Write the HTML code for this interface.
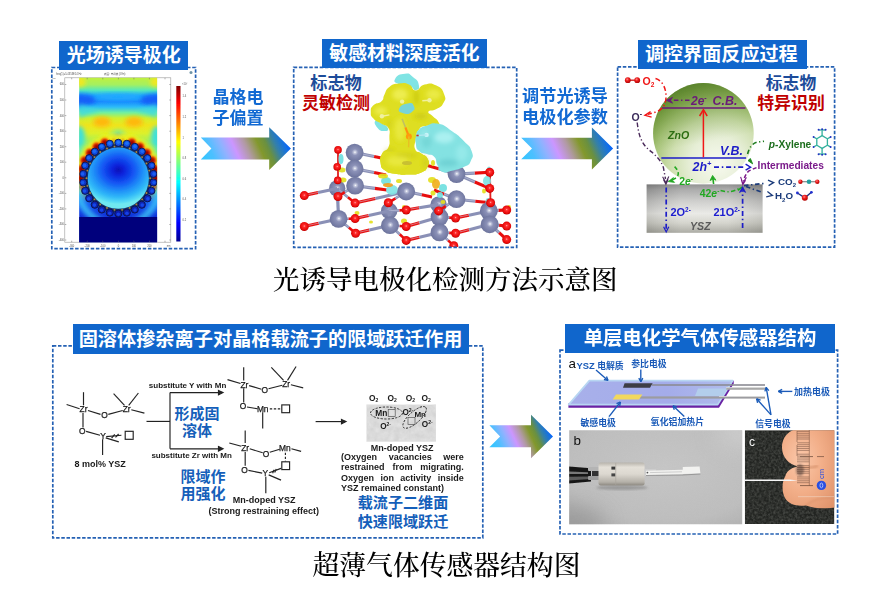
<!DOCTYPE html>
<html lang="zh">
<head>
<meta charset="utf-8">
<title>光诱导电极化检测方法示意图</title>
<style>
html,body{margin:0;padding:0;background:#fff;}
body{width:886px;height:613px;position:relative;overflow:hidden;font-family:"Liberation Sans","Noto Sans CJK SC",sans-serif;}
.abs{position:absolute;}
.dash{position:absolute;border:1.6px dashed #2a62b0;box-sizing:border-box;}
.lbl{position:absolute;overflow:hidden;background:#1066cc;color:#fff;font-weight:bold;text-align:center;white-space:nowrap;box-sizing:border-box;}
.cap{position:absolute;font-family:"Liberation Serif","Noto Serif CJK SC",serif;color:#000;white-space:nowrap;font-weight:500;}
.bt{position:absolute;color:#1169d3;font-weight:bold;white-space:nowrap;text-align:center;}
.rt{position:absolute;color:#c00000;font-weight:bold;white-space:nowrap;text-align:center;}
.nt{position:absolute;color:#1f3f8f;font-weight:bold;white-space:nowrap;text-align:center;}
svg{position:absolute;overflow:visible;}
</style>
</head>
<body>
<svg width="886" height="613" viewBox="0 0 886 613" style="left:0;top:0;">
<defs>
<clipPath id="hmclip"><rect x="79.2" y="77.8" width="77.9" height="164.4"/></clipPath>
<filter id="b06" x="-10%" y="-10%" width="120%" height="120%"><feGaussianBlur stdDeviation="0.55"/></filter>
<filter id="b2" x="-50%" y="-50%" width="200%" height="200%"><feGaussianBlur stdDeviation="2.2"/></filter>
<filter id="b4" x="-50%" y="-50%" width="200%" height="200%"><feGaussianBlur stdDeviation="4"/></filter>
<filter id="b1" x="-50%" y="-50%" width="200%" height="200%"><feGaussianBlur stdDeviation="1.1"/></filter>
<linearGradient id="hmbg" x1="0" y1="77.8" x2="0" y2="217" gradientUnits="userSpaceOnUse">
<stop offset="0" stop-color="#c0f040"/>
<stop offset="0.05" stop-color="#a4f060"/>
<stop offset="0.09" stop-color="#54e8bc"/>
<stop offset="0.13" stop-color="#1ea8ff"/>
<stop offset="0.17" stop-color="#1888ff"/>
<stop offset="0.21" stop-color="#2cbcf8"/>
<stop offset="0.25" stop-color="#70f0a0"/>
<stop offset="0.29" stop-color="#d0f030"/>
<stop offset="0.34" stop-color="#f0e41c"/>
<stop offset="0.40" stop-color="#dcf02c"/>
<stop offset="0.45" stop-color="#a4f05c"/>
<stop offset="0.52" stop-color="#60f0b0"/>
<stop offset="0.64" stop-color="#38d8f0"/>
<stop offset="0.78" stop-color="#28a8ff"/>
<stop offset="0.92" stop-color="#1450f0"/>
<stop offset="1" stop-color="#1030d8"/>
</linearGradient>
<radialGradient id="bigc" cx="118.3" cy="170" r="34" gradientUnits="userSpaceOnUse" gradientTransform="translate(118.3 170) scale(1.18 1) translate(-118.3 -170)">
<stop offset="0" stop-color="#0610b8"/>
<stop offset="0.15" stop-color="#0a24dc"/>
<stop offset="0.4" stop-color="#1458f4"/>
<stop offset="0.62" stop-color="#2090f8"/>
<stop offset="0.8" stop-color="#30b8f8"/>
<stop offset="0.95" stop-color="#58dcf4"/>
<stop offset="1" stop-color="#70e8f0"/>
</radialGradient>
<linearGradient id="cbar" x1="0" y1="86" x2="0" y2="241.5" gradientUnits="userSpaceOnUse">
<stop offset="0" stop-color="#800000"/>
<stop offset="0.11" stop-color="#ff0000"/>
<stop offset="0.36" stop-color="#ffff00"/>
<stop offset="0.62" stop-color="#00ffff"/>
<stop offset="0.88" stop-color="#0000ff"/>
<stop offset="1" stop-color="#00008f"/>
</linearGradient>
</defs>
<g filter="url(#b06)">
<rect x="64.8" y="77.8" width="106" height="164.4" fill="#fff" stroke="#9a9a9a" stroke-width="0.6"/>
<g clip-path="url(#hmclip)">
<rect x="79" y="77" width="79" height="166" fill="url(#hmbg)"/>
<ellipse cx="79" cy="100" rx="17" ry="6" fill="#1460f8" filter="url(#b2)"/>
<ellipse cx="157" cy="100" rx="17" ry="6" fill="#1460f8" filter="url(#b2)"/>
<ellipse cx="118" cy="97" rx="24" ry="3" fill="#24a8ff" filter="url(#b2)"/>
<ellipse cx="80" cy="82" rx="6" ry="5" fill="#f0e820" filter="url(#b2)"/>
<ellipse cx="156" cy="82" rx="6" ry="5" fill="#f0e820" filter="url(#b2)"/>
<ellipse cx="102" cy="122" rx="9" ry="5" fill="#ffb810" filter="url(#b2)"/>
<ellipse cx="134" cy="122" rx="9" ry="5" fill="#ffb810" filter="url(#b2)"/>
<ellipse cx="79" cy="137" rx="6" ry="11" fill="#40e0d8" filter="url(#b2)"/>
<ellipse cx="157" cy="137" rx="6" ry="11" fill="#40e0d8" filter="url(#b2)"/>
<ellipse cx="118" cy="136.5" rx="8" ry="6" fill="#50e8c8" filter="url(#b2)"/>
<ellipse cx="118" cy="137.5" rx="4.6" ry="4" fill="#1c9cff" filter="url(#b1)"/>
<path d="M79 104 L100 110 L79 118 Z" fill="#40d8e0" filter="url(#b2)" opacity="0.8"/>
<path d="M157 104 L136 110 L157 118 Z" fill="#40d8e0" filter="url(#b2)" opacity="0.8"/>
<circle cx="123.0" cy="139.9" r="7.5" fill="#f4f018" opacity="0.90" filter="url(#b2)"/>
<circle cx="132.0" cy="142.1" r="7.5" fill="#f4f018" opacity="0.90" filter="url(#b2)"/>
<circle cx="140.2" cy="146.4" r="7.5" fill="#f4f018" opacity="0.90" filter="url(#b2)"/>
<circle cx="147.2" cy="152.6" r="7.5" fill="#f4f018" opacity="0.90" filter="url(#b2)"/>
<circle cx="152.5" cy="160.3" r="7.5" fill="#f4f018" opacity="0.90" filter="url(#b2)"/>
<circle cx="155.8" cy="169.0" r="7.5" fill="#f4f018" opacity="0.90" filter="url(#b2)"/>
<circle cx="156.9" cy="178.2" r="7.5" fill="#f4f018" opacity="0.90" filter="url(#b2)"/>
<circle cx="155.8" cy="187.4" r="6.2" fill="#f4f018" opacity="0.72" filter="url(#b2)"/>
<circle cx="152.5" cy="196.1" r="3.3" fill="#f4f018" opacity="0.32" filter="url(#b2)"/>
<circle cx="84.1" cy="196.1" r="3.3" fill="#f4f018" opacity="0.32" filter="url(#b2)"/>
<circle cx="80.8" cy="187.4" r="6.2" fill="#f4f018" opacity="0.72" filter="url(#b2)"/>
<circle cx="79.7" cy="178.2" r="7.5" fill="#f4f018" opacity="0.90" filter="url(#b2)"/>
<circle cx="80.8" cy="169.0" r="7.5" fill="#f4f018" opacity="0.90" filter="url(#b2)"/>
<circle cx="84.1" cy="160.3" r="7.5" fill="#f4f018" opacity="0.90" filter="url(#b2)"/>
<circle cx="89.4" cy="152.6" r="7.5" fill="#f4f018" opacity="0.90" filter="url(#b2)"/>
<circle cx="96.4" cy="146.4" r="7.5" fill="#f4f018" opacity="0.90" filter="url(#b2)"/>
<circle cx="104.6" cy="142.1" r="7.5" fill="#f4f018" opacity="0.90" filter="url(#b2)"/>
<circle cx="113.6" cy="139.9" r="7.5" fill="#f4f018" opacity="0.90" filter="url(#b2)"/>
<circle cx="122.9" cy="140.5" r="1.9" fill="#ff5000" opacity="0.30" filter="url(#b1)"/>
<circle cx="122.9" cy="140.5" r="1.1" fill="#980000" opacity="0.30" filter="url(#b1)"/>
<circle cx="131.8" cy="142.7" r="4.6" fill="#ff5000" opacity="1.00" filter="url(#b1)"/>
<circle cx="131.8" cy="142.7" r="2.9" fill="#980000" opacity="1.00" filter="url(#b1)"/>
<circle cx="139.9" cy="146.9" r="4.6" fill="#ff5000" opacity="1.00" filter="url(#b1)"/>
<circle cx="139.9" cy="146.9" r="2.9" fill="#980000" opacity="1.00" filter="url(#b1)"/>
<circle cx="146.7" cy="153.0" r="4.6" fill="#ff5000" opacity="1.00" filter="url(#b1)"/>
<circle cx="146.7" cy="153.0" r="2.9" fill="#980000" opacity="1.00" filter="url(#b1)"/>
<circle cx="151.9" cy="160.5" r="4.6" fill="#ff5000" opacity="1.00" filter="url(#b1)"/>
<circle cx="151.9" cy="160.5" r="2.9" fill="#980000" opacity="1.00" filter="url(#b1)"/>
<circle cx="155.2" cy="169.1" r="4.6" fill="#ff5000" opacity="1.00" filter="url(#b1)"/>
<circle cx="155.2" cy="169.1" r="2.9" fill="#980000" opacity="1.00" filter="url(#b1)"/>
<circle cx="156.3" cy="178.2" r="4.6" fill="#ff5000" opacity="1.00" filter="url(#b1)"/>
<circle cx="156.3" cy="178.2" r="2.9" fill="#980000" opacity="1.00" filter="url(#b1)"/>
<circle cx="155.2" cy="187.3" r="3.0" fill="#ff5000" opacity="0.59" filter="url(#b1)"/>
<circle cx="155.2" cy="187.3" r="1.9" fill="#980000" opacity="0.59" filter="url(#b1)"/>
<circle cx="151.9" cy="195.9" r="1.2" fill="#ff5000" opacity="0.10" filter="url(#b1)"/>
<circle cx="151.9" cy="195.9" r="0.7" fill="#980000" opacity="0.10" filter="url(#b1)"/>
<circle cx="84.7" cy="195.9" r="1.2" fill="#ff5000" opacity="0.10" filter="url(#b1)"/>
<circle cx="84.7" cy="195.9" r="0.7" fill="#980000" opacity="0.10" filter="url(#b1)"/>
<circle cx="81.4" cy="187.3" r="3.0" fill="#ff5000" opacity="0.59" filter="url(#b1)"/>
<circle cx="81.4" cy="187.3" r="1.9" fill="#980000" opacity="0.59" filter="url(#b1)"/>
<circle cx="80.3" cy="178.2" r="4.6" fill="#ff5000" opacity="1.00" filter="url(#b1)"/>
<circle cx="80.3" cy="178.2" r="2.9" fill="#980000" opacity="1.00" filter="url(#b1)"/>
<circle cx="81.4" cy="169.1" r="4.6" fill="#ff5000" opacity="1.00" filter="url(#b1)"/>
<circle cx="81.4" cy="169.1" r="2.9" fill="#980000" opacity="1.00" filter="url(#b1)"/>
<circle cx="84.7" cy="160.5" r="4.6" fill="#ff5000" opacity="1.00" filter="url(#b1)"/>
<circle cx="84.7" cy="160.5" r="2.9" fill="#980000" opacity="1.00" filter="url(#b1)"/>
<circle cx="89.9" cy="153.0" r="4.6" fill="#ff5000" opacity="1.00" filter="url(#b1)"/>
<circle cx="89.9" cy="153.0" r="2.9" fill="#980000" opacity="1.00" filter="url(#b1)"/>
<circle cx="96.7" cy="146.9" r="4.6" fill="#ff5000" opacity="1.00" filter="url(#b1)"/>
<circle cx="96.7" cy="146.9" r="2.9" fill="#980000" opacity="1.00" filter="url(#b1)"/>
<circle cx="104.8" cy="142.7" r="4.6" fill="#ff5000" opacity="1.00" filter="url(#b1)"/>
<circle cx="104.8" cy="142.7" r="2.9" fill="#980000" opacity="1.00" filter="url(#b1)"/>
<circle cx="113.7" cy="140.5" r="1.9" fill="#ff5000" opacity="0.30" filter="url(#b1)"/>
<circle cx="113.7" cy="140.5" r="1.1" fill="#980000" opacity="0.30" filter="url(#b1)"/>
<path d="M 76.9 184.2 A 41.4 41.4 0 0 0 159.7 184.2" fill="none" stroke="#40d0f8" stroke-width="7" opacity="0.75" filter="url(#b2)"/>
<rect x="79" y="217" width="79" height="26" fill="#00007c"/>
<circle cx="118.3" cy="178.2" r="34.4" fill="#18306a"/>
<circle cx="118.3" cy="178.2" r="30.6" fill="url(#bigc)"/>
<circle cx="118.3" cy="142.8" r="3.6" fill="rgb(18,80,232)" stroke="#0c1444" stroke-width="0.9"/>
<circle cx="118.3" cy="142.2" r="1.8" fill="rgb(38,130,255)" opacity="0.7"/>
<circle cx="122.1" cy="146.6" r="0.9" fill="#e0a020" opacity="0.8"/>
<circle cx="126.8" cy="143.8" r="3.6" fill="rgb(17,79,231)" stroke="#0c1444" stroke-width="0.9"/>
<circle cx="126.9" cy="143.2" r="1.8" fill="rgb(37,129,255)" opacity="0.7"/>
<circle cx="129.6" cy="148.5" r="0.9" fill="#e0a020" opacity="0.8"/>
<circle cx="134.8" cy="146.9" r="3.6" fill="rgb(17,77,228)" stroke="#0c1444" stroke-width="0.9"/>
<circle cx="135.0" cy="146.3" r="1.8" fill="rgb(37,127,255)" opacity="0.7"/>
<circle cx="136.4" cy="152.0" r="0.9" fill="#e0a020" opacity="0.8"/>
<circle cx="141.8" cy="151.7" r="3.6" fill="rgb(16,73,224)" stroke="#0c1444" stroke-width="0.9"/>
<circle cx="142.2" cy="151.3" r="1.8" fill="rgb(36,123,255)" opacity="0.7"/>
<circle cx="142.1" cy="157.1" r="0.9" fill="#e0a020" opacity="0.8"/>
<circle cx="147.4" cy="158.1" r="3.6" fill="rgb(15,69,218)" stroke="#0c1444" stroke-width="0.9"/>
<circle cx="147.9" cy="157.7" r="1.8" fill="rgb(35,119,255)" opacity="0.7"/>
<circle cx="146.5" cy="163.4" r="0.9" fill="#e0a020" opacity="0.8"/>
<circle cx="151.4" cy="165.6" r="3.6" fill="rgb(14,63,211)" stroke="#0c1444" stroke-width="0.9"/>
<circle cx="152.0" cy="165.4" r="1.8" fill="rgb(34,113,255)" opacity="0.7"/>
<circle cx="149.2" cy="170.6" r="0.9" fill="#e0a020" opacity="0.8"/>
<circle cx="153.4" cy="173.9" r="3.6" fill="rgb(13,58,204)" stroke="#0c1444" stroke-width="0.9"/>
<circle cx="154.0" cy="173.9" r="1.8" fill="rgb(33,108,255)" opacity="0.7"/>
<circle cx="150.1" cy="178.2" r="0.9" fill="#e0a020" opacity="0.8"/>
<circle cx="153.4" cy="182.5" r="3.6" fill="rgb(12,51,197)" stroke="#0c1444" stroke-width="0.9"/>
<circle cx="154.0" cy="182.5" r="1.8" fill="rgb(32,101,255)" opacity="0.7"/>
<circle cx="149.2" cy="185.8" r="0.9" fill="#e0a020" opacity="0.8"/>
<circle cx="151.4" cy="190.8" r="3.6" fill="rgb(11,46,190)" stroke="#0c1444" stroke-width="0.9"/>
<circle cx="152.0" cy="191.0" r="1.8" fill="rgb(31,96,255)" opacity="0.7"/>
<circle cx="146.5" cy="193.0" r="0.9" fill="#e0a020" opacity="0.8"/>
<circle cx="147.4" cy="198.3" r="3.6" fill="rgb(10,40,183)" stroke="#0c1444" stroke-width="0.9"/>
<circle cx="147.9" cy="198.7" r="1.8" fill="rgb(30,90,255)" opacity="0.7"/>
<circle cx="142.1" cy="199.3" r="0.9" fill="#e0a020" opacity="0.8"/>
<circle cx="141.8" cy="204.7" r="3.6" fill="rgb(9,36,177)" stroke="#0c1444" stroke-width="0.9"/>
<circle cx="142.2" cy="205.1" r="1.8" fill="rgb(29,86,255)" opacity="0.7"/>
<circle cx="136.4" cy="204.4" r="0.9" fill="#e0a020" opacity="0.8"/>
<circle cx="134.8" cy="209.5" r="3.6" fill="rgb(8,32,173)" stroke="#0c1444" stroke-width="0.9"/>
<circle cx="135.0" cy="210.1" r="1.8" fill="rgb(28,82,255)" opacity="0.7"/>
<circle cx="129.6" cy="207.9" r="0.9" fill="#e0a020" opacity="0.8"/>
<circle cx="126.8" cy="212.6" r="3.6" fill="rgb(8,30,170)" stroke="#0c1444" stroke-width="0.9"/>
<circle cx="126.9" cy="213.2" r="1.8" fill="rgb(28,80,255)" opacity="0.7"/>
<circle cx="122.1" cy="209.8" r="0.9" fill="#e0a020" opacity="0.8"/>
<circle cx="118.3" cy="213.6" r="3.6" fill="rgb(7,29,170)" stroke="#0c1444" stroke-width="0.9"/>
<circle cx="118.3" cy="214.2" r="1.8" fill="rgb(27,79,255)" opacity="0.7"/>
<circle cx="114.5" cy="209.8" r="0.9" fill="#e0a020" opacity="0.8"/>
<circle cx="109.8" cy="212.6" r="3.6" fill="rgb(8,30,170)" stroke="#0c1444" stroke-width="0.9"/>
<circle cx="109.7" cy="213.2" r="1.8" fill="rgb(28,80,255)" opacity="0.7"/>
<circle cx="107.0" cy="207.9" r="0.9" fill="#e0a020" opacity="0.8"/>
<circle cx="101.8" cy="209.5" r="3.6" fill="rgb(8,32,173)" stroke="#0c1444" stroke-width="0.9"/>
<circle cx="101.6" cy="210.1" r="1.8" fill="rgb(28,82,255)" opacity="0.7"/>
<circle cx="100.2" cy="204.4" r="0.9" fill="#e0a020" opacity="0.8"/>
<circle cx="94.8" cy="204.7" r="3.6" fill="rgb(9,36,177)" stroke="#0c1444" stroke-width="0.9"/>
<circle cx="94.4" cy="205.1" r="1.8" fill="rgb(29,86,255)" opacity="0.7"/>
<circle cx="94.5" cy="199.3" r="0.9" fill="#e0a020" opacity="0.8"/>
<circle cx="89.2" cy="198.3" r="3.6" fill="rgb(10,40,183)" stroke="#0c1444" stroke-width="0.9"/>
<circle cx="88.7" cy="198.7" r="1.8" fill="rgb(30,90,255)" opacity="0.7"/>
<circle cx="90.1" cy="193.0" r="0.9" fill="#e0a020" opacity="0.8"/>
<circle cx="85.2" cy="190.8" r="3.6" fill="rgb(11,46,190)" stroke="#0c1444" stroke-width="0.9"/>
<circle cx="84.6" cy="191.0" r="1.8" fill="rgb(31,96,255)" opacity="0.7"/>
<circle cx="87.4" cy="185.8" r="0.9" fill="#e0a020" opacity="0.8"/>
<circle cx="83.2" cy="182.5" r="3.6" fill="rgb(12,51,197)" stroke="#0c1444" stroke-width="0.9"/>
<circle cx="82.6" cy="182.5" r="1.8" fill="rgb(32,101,255)" opacity="0.7"/>
<circle cx="86.5" cy="178.2" r="0.9" fill="#e0a020" opacity="0.8"/>
<circle cx="83.2" cy="173.9" r="3.6" fill="rgb(13,58,204)" stroke="#0c1444" stroke-width="0.9"/>
<circle cx="82.6" cy="173.9" r="1.8" fill="rgb(33,108,255)" opacity="0.7"/>
<circle cx="87.4" cy="170.6" r="0.9" fill="#e0a020" opacity="0.8"/>
<circle cx="85.2" cy="165.6" r="3.6" fill="rgb(14,63,211)" stroke="#0c1444" stroke-width="0.9"/>
<circle cx="84.6" cy="165.4" r="1.8" fill="rgb(34,113,255)" opacity="0.7"/>
<circle cx="90.1" cy="163.4" r="0.9" fill="#e0a020" opacity="0.8"/>
<circle cx="89.2" cy="158.1" r="3.6" fill="rgb(15,69,218)" stroke="#0c1444" stroke-width="0.9"/>
<circle cx="88.7" cy="157.7" r="1.8" fill="rgb(35,119,255)" opacity="0.7"/>
<circle cx="94.5" cy="157.1" r="0.9" fill="#e0a020" opacity="0.8"/>
<circle cx="94.8" cy="151.7" r="3.6" fill="rgb(16,73,224)" stroke="#0c1444" stroke-width="0.9"/>
<circle cx="94.4" cy="151.3" r="1.8" fill="rgb(36,123,255)" opacity="0.7"/>
<circle cx="100.2" cy="152.0" r="0.9" fill="#e0a020" opacity="0.8"/>
<circle cx="101.8" cy="146.9" r="3.6" fill="rgb(17,77,228)" stroke="#0c1444" stroke-width="0.9"/>
<circle cx="101.6" cy="146.3" r="1.8" fill="rgb(37,127,255)" opacity="0.7"/>
<circle cx="107.0" cy="148.5" r="0.9" fill="#e0a020" opacity="0.8"/>
<circle cx="109.8" cy="143.8" r="3.6" fill="rgb(17,79,231)" stroke="#0c1444" stroke-width="0.9"/>
<circle cx="109.7" cy="143.2" r="1.8" fill="rgb(37,129,255)" opacity="0.7"/>
<circle cx="114.5" cy="146.6" r="0.9" fill="#e0a020" opacity="0.8"/>
</g>
<rect x="176.3" y="86" width="4.2" height="155.5" fill="url(#cbar)"/>
<line x1="64.8" y1="84.5" x2="66.3" y2="84.5" stroke="#666" stroke-width="0.5"/>
<line x1="169.3" y1="84.5" x2="170.8" y2="84.5" stroke="#666" stroke-width="0.5"/>
<line x1="64.8" y1="100.0" x2="66.3" y2="100.0" stroke="#666" stroke-width="0.5"/>
<line x1="169.3" y1="100.0" x2="170.8" y2="100.0" stroke="#666" stroke-width="0.5"/>
<line x1="64.8" y1="115.6" x2="66.3" y2="115.6" stroke="#666" stroke-width="0.5"/>
<line x1="169.3" y1="115.6" x2="170.8" y2="115.6" stroke="#666" stroke-width="0.5"/>
<line x1="64.8" y1="131.2" x2="66.3" y2="131.2" stroke="#666" stroke-width="0.5"/>
<line x1="169.3" y1="131.2" x2="170.8" y2="131.2" stroke="#666" stroke-width="0.5"/>
<line x1="64.8" y1="146.7" x2="66.3" y2="146.7" stroke="#666" stroke-width="0.5"/>
<line x1="169.3" y1="146.7" x2="170.8" y2="146.7" stroke="#666" stroke-width="0.5"/>
<line x1="64.8" y1="162.2" x2="66.3" y2="162.2" stroke="#666" stroke-width="0.5"/>
<line x1="169.3" y1="162.2" x2="170.8" y2="162.2" stroke="#666" stroke-width="0.5"/>
<line x1="64.8" y1="177.8" x2="66.3" y2="177.8" stroke="#666" stroke-width="0.5"/>
<line x1="169.3" y1="177.8" x2="170.8" y2="177.8" stroke="#666" stroke-width="0.5"/>
<line x1="64.8" y1="193.4" x2="66.3" y2="193.4" stroke="#666" stroke-width="0.5"/>
<line x1="169.3" y1="193.4" x2="170.8" y2="193.4" stroke="#666" stroke-width="0.5"/>
<line x1="64.8" y1="208.9" x2="66.3" y2="208.9" stroke="#666" stroke-width="0.5"/>
<line x1="169.3" y1="208.9" x2="170.8" y2="208.9" stroke="#666" stroke-width="0.5"/>
<line x1="64.8" y1="224.5" x2="66.3" y2="224.5" stroke="#666" stroke-width="0.5"/>
<line x1="169.3" y1="224.5" x2="170.8" y2="224.5" stroke="#666" stroke-width="0.5"/>
<line x1="64.8" y1="240.0" x2="66.3" y2="240.0" stroke="#666" stroke-width="0.5"/>
<line x1="169.3" y1="240.0" x2="170.8" y2="240.0" stroke="#666" stroke-width="0.5"/>
<line x1="71.7" y1="242.2" x2="71.7" y2="240.7" stroke="#666" stroke-width="0.5"/>
<line x1="71.7" y1="77.8" x2="71.7" y2="79.3" stroke="#666" stroke-width="0.5"/>
<line x1="87.2" y1="242.2" x2="87.2" y2="240.7" stroke="#666" stroke-width="0.5"/>
<line x1="87.2" y1="77.8" x2="87.2" y2="79.3" stroke="#666" stroke-width="0.5"/>
<line x1="102.8" y1="242.2" x2="102.8" y2="240.7" stroke="#666" stroke-width="0.5"/>
<line x1="102.8" y1="77.8" x2="102.8" y2="79.3" stroke="#666" stroke-width="0.5"/>
<line x1="118.4" y1="242.2" x2="118.4" y2="240.7" stroke="#666" stroke-width="0.5"/>
<line x1="118.4" y1="77.8" x2="118.4" y2="79.3" stroke="#666" stroke-width="0.5"/>
<line x1="133.9" y1="242.2" x2="133.9" y2="240.7" stroke="#666" stroke-width="0.5"/>
<line x1="133.9" y1="77.8" x2="133.9" y2="79.3" stroke="#666" stroke-width="0.5"/>
<line x1="149.4" y1="242.2" x2="149.4" y2="240.7" stroke="#666" stroke-width="0.5"/>
<line x1="149.4" y1="77.8" x2="149.4" y2="79.3" stroke="#666" stroke-width="0.5"/>
<line x1="165.0" y1="242.2" x2="165.0" y2="240.7" stroke="#666" stroke-width="0.5"/>
<line x1="165.0" y1="77.8" x2="165.0" y2="79.3" stroke="#666" stroke-width="0.5"/>
</g>
<g font-family="Liberation Sans, Noto Sans CJK SC, sans-serif" font-size="2.6" fill="#555" filter="url(#b06)">
<text x="56" y="74.6">freq(1)=5.4353E14 Hz</text>
<text x="104" y="74.6">表面: 电场模 (V/m)</text>
<text x="52.5" y="78.5" font-size="2.2">nm</text>
<text x="64" y="85.4" text-anchor="end">600</text>
<text x="64" y="101.0" text-anchor="end">500</text>
<text x="64" y="116.5" text-anchor="end">400</text>
<text x="64" y="132.1" text-anchor="end">300</text>
<text x="64" y="147.6" text-anchor="end">200</text>
<text x="64" y="163.2" text-anchor="end">100</text>
<text x="64" y="178.7" text-anchor="end">0</text>
<text x="64" y="194.3" text-anchor="end">-100</text>
<text x="64" y="209.8" text-anchor="end">-200</text>
<text x="64" y="225.4" text-anchor="end">-300</text>
<text x="64" y="240.9" text-anchor="end">-400</text>
<text x="71.7" y="246.6" text-anchor="middle">-300</text>
<text x="87.2" y="246.6" text-anchor="middle">-200</text>
<text x="102.8" y="246.6" text-anchor="middle">-100</text>
<text x="118.4" y="246.6" text-anchor="middle">0</text>
<text x="133.9" y="246.6" text-anchor="middle">100</text>
<text x="149.4" y="246.6" text-anchor="middle">200</text>
<text x="168.5" y="246.6" text-anchor="middle">nm</text>
<text x="182" y="84.5">×10⁷</text>
<text x="182.5" y="97.4">1.4</text>
<text x="182.5" y="118.2">1.2</text>
<text x="182.5" y="139.4">1</text>
<text x="182.5" y="159.4">0.8</text>
<text x="182.5" y="179.7">0.6</text>
<text x="182.5" y="200.4">0.4</text>
<text x="182.5" y="221.1">0.2</text>
</g>
<circle cx="191" cy="72.4" r="1.5" fill="#4a7890" opacity="0.8"/><!-- cam-icon -->
</svg>
<svg width="886" height="613" viewBox="0 0 886 613" style="left:0;top:0;">
<defs><filter id="ab" x="-5%" y="-10%" width="110%" height="120%"><feGaussianBlur stdDeviation="0.5"/></filter></defs>
<linearGradient id="ag1" gradientUnits="userSpaceOnUse" x1="200.8" y1="169.3" x2="290.9" y2="127.9"><stop offset="0.087" stop-color="#38c4ff"/><stop offset="0.170" stop-color="#4cc0ff"/><stop offset="0.294" stop-color="#90b2ff"/><stop offset="0.401" stop-color="#cc96ff"/><stop offset="0.517" stop-color="#b09aa0"/><stop offset="0.632" stop-color="#82982c"/><stop offset="0.706" stop-color="#6a9040"/><stop offset="0.789" stop-color="#3480a8"/><stop offset="0.871" stop-color="#1470e4"/><stop offset="0.913" stop-color="#0060ff"/></linearGradient>
<path filter="url(#ab)" fill="url(#ag1)" d="M200.8 137.5 L269.2 137.5 L269.2 127.3 L290.9 148.6 L269.2 169.9 L269.2 159.4 L200.8 159.4 L211.4 148.6 Z"/>
<linearGradient id="ag2" gradientUnits="userSpaceOnUse" x1="521.2" y1="169.6" x2="613.1" y2="127.4"><stop offset="0.087" stop-color="#38c4ff"/><stop offset="0.170" stop-color="#4cc0ff"/><stop offset="0.294" stop-color="#90b2ff"/><stop offset="0.401" stop-color="#cc96ff"/><stop offset="0.517" stop-color="#b09aa0"/><stop offset="0.632" stop-color="#82982c"/><stop offset="0.706" stop-color="#6a9040"/><stop offset="0.789" stop-color="#3480a8"/><stop offset="0.871" stop-color="#1470e4"/><stop offset="0.913" stop-color="#0060ff"/></linearGradient>
<path filter="url(#ab)" fill="url(#ag2)" d="M521.2 137.7 L591.9 137.7 L591.9 127.4 L613.1 148.5 L591.9 169.6 L591.9 159.2 L521.2 159.2 L532 148.5 Z"/>
<linearGradient id="ag3" gradientUnits="userSpaceOnUse" x1="489.4" y1="451.1" x2="553" y2="421.9"><stop offset="0.087" stop-color="#38c4ff"/><stop offset="0.170" stop-color="#4cc0ff"/><stop offset="0.294" stop-color="#90b2ff"/><stop offset="0.401" stop-color="#cc96ff"/><stop offset="0.517" stop-color="#b09aa0"/><stop offset="0.632" stop-color="#82982c"/><stop offset="0.706" stop-color="#6a9040"/><stop offset="0.789" stop-color="#3480a8"/><stop offset="0.871" stop-color="#1470e4"/><stop offset="0.913" stop-color="#0060ff"/></linearGradient>
<path filter="url(#ab)" fill="url(#ag3)" d="M489.4 425.2 L531 425.2 L531 414.7 L553 436.5 L531 458.3 L531 447.3 L489.4 447.3 L500.1 436.5 Z"/>
</svg>
<svg width="886" height="613" viewBox="0 0 886 613" style="left:0;top:0;">
<defs>
<filter id="mb" x="-5%" y="-5%" width="110%" height="110%"><feGaussianBlur stdDeviation="0.45"/></filter>
<filter id="mb2" x="-30%" y="-30%" width="160%" height="160%"><feGaussianBlur stdDeviation="2"/></filter>
<filter id="mb1" x="-30%" y="-30%" width="160%" height="160%"><feGaussianBlur stdDeviation="1"/></filter>
<radialGradient id="gZn" cx="0.52" cy="0.48" r="0.6"><stop offset="0" stop-color="#ffffff"/><stop offset="0.1" stop-color="#c8cce0"/><stop offset="0.3" stop-color="#8c92b8"/><stop offset="0.8" stop-color="#7077a0"/><stop offset="1" stop-color="#5a6088"/></radialGradient>
<radialGradient id="gO" cx="0.5" cy="0.45" r="0.6"><stop offset="0" stop-color="#ffb0b0"/><stop offset="0.2" stop-color="#ff3030"/><stop offset="0.7" stop-color="#e80808"/><stop offset="1" stop-color="#a80000"/></radialGradient>
<radialGradient id="gY" cx="0.45" cy="0.35" r="0.75"><stop offset="0" stop-color="#e8e838"/><stop offset="0.5" stop-color="#dcdc20"/><stop offset="1" stop-color="#b8b810"/></radialGradient>
<radialGradient id="gC" cx="0.5" cy="0.4" r="0.7"><stop offset="0" stop-color="#a8f0f0"/><stop offset="0.6" stop-color="#80e0e0"/><stop offset="1" stop-color="#60c8cc"/></radialGradient>
<clipPath id="p2clip"><rect x="294" y="67" width="223" height="180"/></clipPath>
</defs>
<g filter="url(#mb)" clip-path="url(#p2clip)">
<line x1="338" y1="150" x2="338" y2="197" stroke="#e02020" stroke-width="1.8"/>
<line x1="490" y1="172" x2="490.5" y2="203" stroke="#e02020" stroke-width="1.8"/>
<circle cx="337.2" cy="188.4" r="8.2" fill="url(#gZn)"/>
<circle cx="389.2" cy="210.9" r="8.2" fill="url(#gZn)"/>
<circle cx="438.6" cy="204.6" r="8.2" fill="url(#gZn)"/>
<line x1="304.3" y1="195.6" x2="318.1" y2="192.6" stroke="#e81010" stroke-width="3.1"/>
<line x1="318.1" y1="192.6" x2="337.2" y2="188.4" stroke="#8a90b6" stroke-width="3.1"/>
<line x1="304.3" y1="195.4" x2="318.1" y2="192.4" stroke="#d0d4ea" stroke-width="0.7" opacity="0.7"/>
<line x1="304.3" y1="226.5" x2="318.7" y2="223.3" stroke="#e81010" stroke-width="3.1"/>
<line x1="318.7" y1="223.3" x2="338.6" y2="218.9" stroke="#8a90b6" stroke-width="3.1"/>
<line x1="304.3" y1="226.3" x2="318.7" y2="223.1" stroke="#d0d4ea" stroke-width="0.7" opacity="0.7"/>
<line x1="355.1" y1="203.1" x2="375.5" y2="198.5" stroke="#e81010" stroke-width="3.1"/>
<line x1="375.5" y1="198.5" x2="406.2" y2="191.5" stroke="#8a90b6" stroke-width="3.1"/>
<line x1="355.1" y1="202.9" x2="375.5" y2="198.3" stroke="#d0d4ea" stroke-width="0.7" opacity="0.7"/>
<line x1="355.1" y1="218.6" x2="368.7" y2="215.5" stroke="#e81010" stroke-width="3.1"/>
<line x1="368.7" y1="215.5" x2="389.2" y2="210.9" stroke="#8a90b6" stroke-width="3.1"/>
<line x1="355.1" y1="218.4" x2="368.7" y2="215.3" stroke="#d0d4ea" stroke-width="0.7" opacity="0.7"/>
<line x1="355.6" y1="233.3" x2="369.4" y2="230.1" stroke="#e81010" stroke-width="3.1"/>
<line x1="369.4" y1="230.1" x2="390.0" y2="225.2" stroke="#8a90b6" stroke-width="3.1"/>
<line x1="355.6" y1="233.1" x2="369.4" y2="229.9" stroke="#d0d4ea" stroke-width="0.7" opacity="0.7"/>
<line x1="406.2" y1="210.0" x2="419.2" y2="207.8" stroke="#e81010" stroke-width="3.1"/>
<line x1="419.2" y1="207.8" x2="438.6" y2="204.6" stroke="#8a90b6" stroke-width="3.1"/>
<line x1="406.2" y1="209.8" x2="419.2" y2="207.6" stroke="#d0d4ea" stroke-width="0.7" opacity="0.7"/>
<line x1="406.2" y1="226.5" x2="419.5" y2="222.7" stroke="#e81010" stroke-width="3.1"/>
<line x1="419.5" y1="222.7" x2="439.5" y2="217.1" stroke="#8a90b6" stroke-width="3.1"/>
<line x1="406.2" y1="226.3" x2="419.5" y2="222.5" stroke="#d0d4ea" stroke-width="0.7" opacity="0.7"/>
<line x1="406.2" y1="240.4" x2="419.5" y2="237.2" stroke="#e81010" stroke-width="3.1"/>
<line x1="419.5" y1="237.2" x2="439.5" y2="232.4" stroke="#8a90b6" stroke-width="3.1"/>
<line x1="406.2" y1="240.2" x2="419.5" y2="237.0" stroke="#d0d4ea" stroke-width="0.7" opacity="0.7"/>
<line x1="455.6" y1="218.0" x2="468.9" y2="215.2" stroke="#e81010" stroke-width="3.1"/>
<line x1="468.9" y1="215.2" x2="488.8" y2="210.9" stroke="#8a90b6" stroke-width="3.1"/>
<line x1="455.6" y1="217.8" x2="468.9" y2="215.0" stroke="#d0d4ea" stroke-width="0.7" opacity="0.7"/>
<line x1="455.6" y1="233.3" x2="469.2" y2="229.7" stroke="#e81010" stroke-width="3.1"/>
<line x1="469.2" y1="229.7" x2="489.7" y2="224.3" stroke="#8a90b6" stroke-width="3.1"/>
<line x1="455.6" y1="233.1" x2="469.2" y2="229.5" stroke="#d0d4ea" stroke-width="0.7" opacity="0.7"/>
<line x1="354.6" y1="152.6" x2="374.1" y2="156.6" stroke="#8a90b6" stroke-width="3.1"/>
<line x1="374.1" y1="156.6" x2="386.0" y2="159.0" stroke="#e81010" stroke-width="3.1"/>
<line x1="354.6" y1="152.4" x2="374.1" y2="156.4" stroke="#d0d4ea" stroke-width="0.7" opacity="0.7"/>
<line x1="354.6" y1="168.7" x2="374.1" y2="172.6" stroke="#8a90b6" stroke-width="3.1"/>
<line x1="374.1" y1="172.6" x2="386.0" y2="175.0" stroke="#e81010" stroke-width="3.1"/>
<line x1="354.6" y1="168.5" x2="374.1" y2="172.4" stroke="#d0d4ea" stroke-width="0.7" opacity="0.7"/>
<line x1="355.1" y1="185.7" x2="374.9" y2="188.4" stroke="#8a90b6" stroke-width="3.1"/>
<line x1="374.9" y1="188.4" x2="387.0" y2="190.0" stroke="#e81010" stroke-width="3.1"/>
<line x1="355.1" y1="185.5" x2="374.9" y2="188.2" stroke="#d0d4ea" stroke-width="0.7" opacity="0.7"/>
<line x1="406.2" y1="191.5" x2="421.7" y2="194.8" stroke="#8a90b6" stroke-width="3.1"/>
<line x1="421.7" y1="194.8" x2="432.0" y2="197.0" stroke="#e81010" stroke-width="3.1"/>
<line x1="406.2" y1="191.3" x2="421.7" y2="194.6" stroke="#d0d4ea" stroke-width="0.7" opacity="0.7"/>
<line x1="456.5" y1="174.1" x2="438.6" y2="168.8" stroke="#8a90b6" stroke-width="3.1"/>
<line x1="438.6" y1="168.8" x2="424.0" y2="164.5" stroke="#e81010" stroke-width="3.1"/>
<line x1="456.5" y1="173.9" x2="438.6" y2="168.6" stroke="#d0d4ea" stroke-width="0.7" opacity="0.7"/>
<line x1="456.5" y1="199.2" x2="444.1" y2="194.1" stroke="#8a90b6" stroke-width="3.1"/>
<line x1="444.1" y1="194.1" x2="434.0" y2="190.0" stroke="#e81010" stroke-width="3.1"/>
<line x1="456.5" y1="199.0" x2="444.1" y2="193.9" stroke="#d0d4ea" stroke-width="0.7" opacity="0.7"/>
<line x1="456.5" y1="174.1" x2="474.8" y2="173.1" stroke="#8a90b6" stroke-width="3.1"/>
<line x1="474.8" y1="173.1" x2="489.7" y2="172.3" stroke="#e81010" stroke-width="3.1"/>
<line x1="456.5" y1="173.9" x2="474.8" y2="172.9" stroke="#d0d4ea" stroke-width="0.7" opacity="0.7"/>
<line x1="456.5" y1="174.1" x2="474.8" y2="182.0" stroke="#8a90b6" stroke-width="3.1"/>
<line x1="474.8" y1="182.0" x2="489.7" y2="188.4" stroke="#e81010" stroke-width="3.1"/>
<line x1="456.5" y1="173.9" x2="474.8" y2="181.8" stroke="#d0d4ea" stroke-width="0.7" opacity="0.7"/>
<line x1="456.5" y1="199.2" x2="475.3" y2="201.2" stroke="#8a90b6" stroke-width="3.1"/>
<line x1="475.3" y1="201.2" x2="490.6" y2="202.8" stroke="#e81010" stroke-width="3.1"/>
<line x1="456.5" y1="199.0" x2="475.3" y2="201.0" stroke="#d0d4ea" stroke-width="0.7" opacity="0.7"/>
<line x1="488.8" y1="210.9" x2="498.6" y2="210.4" stroke="#8a90b6" stroke-width="3.1"/>
<line x1="498.6" y1="210.4" x2="506.7" y2="210.0" stroke="#e81010" stroke-width="3.1"/>
<line x1="488.8" y1="210.7" x2="498.6" y2="210.2" stroke="#d0d4ea" stroke-width="0.7" opacity="0.7"/>
<line x1="489.7" y1="224.3" x2="499.1" y2="225.3" stroke="#8a90b6" stroke-width="3.1"/>
<line x1="499.1" y1="225.3" x2="506.7" y2="226.1" stroke="#e81010" stroke-width="3.1"/>
<line x1="489.7" y1="224.1" x2="499.1" y2="225.1" stroke="#d0d4ea" stroke-width="0.7" opacity="0.7"/>
<line x1="489.7" y1="224.3" x2="499.1" y2="232.7" stroke="#8a90b6" stroke-width="3.1"/>
<line x1="499.1" y1="232.7" x2="506.7" y2="239.6" stroke="#e81010" stroke-width="3.1"/>
<line x1="489.7" y1="224.1" x2="499.1" y2="232.5" stroke="#d0d4ea" stroke-width="0.7" opacity="0.7"/>
<line x1="337.2" y1="188.4" x2="347.9" y2="197.2" stroke="#8a90b6" stroke-width="2.6"/>
<line x1="347.9" y1="197.2" x2="355.1" y2="203.1" stroke="#e81010" stroke-width="2.6"/>
<line x1="337.2" y1="188.2" x2="347.9" y2="197.0" stroke="#d0d4ea" stroke-width="0.7" opacity="0.7"/>
<line x1="338.6" y1="218.9" x2="348.5" y2="218.7" stroke="#8a90b6" stroke-width="2.6"/>
<line x1="348.5" y1="218.7" x2="355.1" y2="218.6" stroke="#e81010" stroke-width="2.6"/>
<line x1="338.6" y1="218.7" x2="348.5" y2="218.5" stroke="#d0d4ea" stroke-width="0.7" opacity="0.7"/>
<line x1="338.6" y1="218.9" x2="348.8" y2="227.5" stroke="#8a90b6" stroke-width="2.6"/>
<line x1="348.8" y1="227.5" x2="355.6" y2="233.3" stroke="#e81010" stroke-width="2.6"/>
<line x1="338.6" y1="218.7" x2="348.8" y2="227.3" stroke="#d0d4ea" stroke-width="0.7" opacity="0.7"/>
<line x1="389.2" y1="210.9" x2="388.7" y2="206.0" stroke="#8a90b6" stroke-width="2.6"/>
<line x1="388.7" y1="206.0" x2="388.3" y2="202.8" stroke="#e81010" stroke-width="2.6"/>
<line x1="389.2" y1="210.7" x2="388.7" y2="205.8" stroke="#d0d4ea" stroke-width="0.7" opacity="0.7"/>
<line x1="390.0" y1="225.2" x2="399.7" y2="226.0" stroke="#8a90b6" stroke-width="2.6"/>
<line x1="399.7" y1="226.0" x2="406.2" y2="226.5" stroke="#e81010" stroke-width="2.6"/>
<line x1="390.0" y1="225.0" x2="399.7" y2="225.8" stroke="#d0d4ea" stroke-width="0.7" opacity="0.7"/>
<line x1="390.0" y1="225.2" x2="399.7" y2="234.3" stroke="#8a90b6" stroke-width="2.6"/>
<line x1="399.7" y1="234.3" x2="406.2" y2="240.4" stroke="#e81010" stroke-width="2.6"/>
<line x1="390.0" y1="225.0" x2="399.7" y2="234.1" stroke="#d0d4ea" stroke-width="0.7" opacity="0.7"/>
<line x1="439.5" y1="217.1" x2="449.2" y2="217.6" stroke="#8a90b6" stroke-width="2.6"/>
<line x1="449.2" y1="217.6" x2="455.6" y2="218.0" stroke="#e81010" stroke-width="2.6"/>
<line x1="439.5" y1="216.9" x2="449.2" y2="217.4" stroke="#d0d4ea" stroke-width="0.7" opacity="0.7"/>
<line x1="439.5" y1="232.4" x2="449.2" y2="232.9" stroke="#8a90b6" stroke-width="2.6"/>
<line x1="449.2" y1="232.9" x2="455.6" y2="233.3" stroke="#e81010" stroke-width="2.6"/>
<line x1="439.5" y1="232.2" x2="449.2" y2="232.7" stroke="#d0d4ea" stroke-width="0.7" opacity="0.7"/>
<line x1="439.5" y1="232.4" x2="448.1" y2="240.4" stroke="#8a90b6" stroke-width="2.6"/>
<line x1="448.1" y1="240.4" x2="453.8" y2="245.8" stroke="#e81010" stroke-width="2.6"/>
<line x1="439.5" y1="232.2" x2="448.1" y2="240.2" stroke="#d0d4ea" stroke-width="0.7" opacity="0.7"/>
<line x1="337.2" y1="188.4" x2="337.7" y2="193.3" stroke="#8a90b6" stroke-width="2.6"/>
<line x1="337.7" y1="193.3" x2="338.0" y2="196.5" stroke="#e81010" stroke-width="2.6"/>
<line x1="337.2" y1="188.2" x2="337.7" y2="193.1" stroke="#d0d4ea" stroke-width="0.7" opacity="0.7"/>
<line x1="389.2" y1="210.9" x2="399.4" y2="210.4" stroke="#8a90b6" stroke-width="2.6"/>
<line x1="399.4" y1="210.4" x2="406.2" y2="210.0" stroke="#e81010" stroke-width="2.6"/>
<line x1="389.2" y1="210.7" x2="399.4" y2="210.2" stroke="#d0d4ea" stroke-width="0.7" opacity="0.7"/>
<line x1="438.6" y1="204.6" x2="438.6" y2="208.4" stroke="#8a90b6" stroke-width="2.6"/>
<line x1="438.6" y1="208.4" x2="438.6" y2="210.9" stroke="#e81010" stroke-width="2.6"/>
<line x1="438.6" y1="204.4" x2="438.6" y2="208.2" stroke="#d0d4ea" stroke-width="0.7" opacity="0.7"/>
<line x1="406.2" y1="191.5" x2="395.5" y2="198.3" stroke="#8a90b6" stroke-width="2.6"/>
<line x1="395.5" y1="198.3" x2="388.3" y2="202.8" stroke="#e81010" stroke-width="2.6"/>
<line x1="406.2" y1="191.3" x2="395.5" y2="198.1" stroke="#d0d4ea" stroke-width="0.7" opacity="0.7"/>
<line x1="355.1" y1="185.7" x2="344.8" y2="192.2" stroke="#8a90b6" stroke-width="2.6"/>
<line x1="344.8" y1="192.2" x2="338.0" y2="196.5" stroke="#e81010" stroke-width="2.6"/>
<line x1="355.1" y1="185.5" x2="344.8" y2="192.0" stroke="#d0d4ea" stroke-width="0.7" opacity="0.7"/>
<line x1="456.5" y1="199.2" x2="445.8" y2="206.2" stroke="#8a90b6" stroke-width="2.6"/>
<line x1="445.8" y1="206.2" x2="438.6" y2="210.9" stroke="#e81010" stroke-width="2.6"/>
<line x1="456.5" y1="199.0" x2="445.8" y2="206.0" stroke="#d0d4ea" stroke-width="0.7" opacity="0.7"/>
<line x1="488.8" y1="210.9" x2="489.9" y2="206.0" stroke="#8a90b6" stroke-width="2.6"/>
<line x1="489.9" y1="206.0" x2="490.6" y2="202.8" stroke="#e81010" stroke-width="2.6"/>
<line x1="488.8" y1="210.7" x2="489.9" y2="205.8" stroke="#d0d4ea" stroke-width="0.7" opacity="0.7"/>
<line x1="337.2" y1="188.4" x2="338.6" y2="218.9" stroke="#8a90b6" stroke-width="3.2"/>
<line x1="389.2" y1="210.9" x2="390.0" y2="225.2" stroke="#8a90b6" stroke-width="3.2"/>
<line x1="438.6" y1="204.6" x2="439.5" y2="217.1" stroke="#8a90b6" stroke-width="3.2"/>
<line x1="439.5" y1="217.1" x2="439.5" y2="232.4" stroke="#8a90b6" stroke-width="3.2"/>
<line x1="488.8" y1="210.9" x2="489.7" y2="224.3" stroke="#8a90b6" stroke-width="3.2"/>
<ellipse cx="341" cy="159" rx="2.5" ry="5" fill="#70e0e0" opacity="0.92"/>
<ellipse cx="342" cy="170" rx="3.5" ry="2.5" fill="#e0e020" opacity="0.92"/>
<ellipse cx="343" cy="180" rx="3.5" ry="2.5" fill="#e0e020" opacity="0.92"/>
<ellipse cx="386" cy="181" rx="5" ry="4" fill="#70e0e0" opacity="0.92"/>
<ellipse cx="392" cy="190" rx="6" ry="5" fill="#80e4e4" opacity="0.92"/>
<ellipse cx="383" cy="176" rx="5" ry="2.5" fill="#e4e020" opacity="0.92"/>
<ellipse cx="388" cy="185" rx="5" ry="2" fill="#f0a020" opacity="0.92"/>
<ellipse cx="399" cy="181" rx="3" ry="2" fill="#e4e020" opacity="0.92"/>
<ellipse cx="432" cy="180" rx="4" ry="3" fill="#e4e020" opacity="0.92"/>
<ellipse cx="436" cy="184" rx="4" ry="5" fill="#f0b020" opacity="0.92"/>
<ellipse cx="443" cy="188" rx="4" ry="4" fill="#70e0e0" opacity="0.92"/>
<ellipse cx="440" cy="195" rx="3" ry="3" fill="#70e0e0" opacity="0.92"/>
<ellipse cx="433" cy="193" rx="2.5" ry="2.5" fill="#e4e020" opacity="0.92"/>
<ellipse cx="443" cy="202" rx="2.5" ry="2" fill="#e4e020" opacity="0.92"/>
<ellipse cx="433" cy="163" rx="2" ry="3" fill="#e4e020" opacity="0.92"/>
<ellipse cx="487" cy="181" rx="4" ry="5" fill="#80e4e4" opacity="0.92"/>
<ellipse cx="484" cy="191" rx="2" ry="2.5" fill="#e4e020" opacity="0.92"/>
<ellipse cx="488" cy="202" rx="2.5" ry="4" fill="#80e4e4" opacity="0.92"/>
<ellipse cx="489" cy="169" rx="2" ry="2.5" fill="#80e4e4" opacity="0.92"/>
<ellipse cx="357" cy="213" rx="2.5" ry="2" fill="#e4e020" opacity="0.92"/>
<ellipse cx="404" cy="221" rx="3" ry="2.5" fill="#e4e020" opacity="0.92"/>
<ellipse cx="404" cy="207" rx="2" ry="2" fill="#e4e020" opacity="0.92"/>
<ellipse cx="509" cy="207" rx="2" ry="2" fill="#e4e020" opacity="0.92"/>
<ellipse cx="371" cy="222" rx="2" ry="1.6" fill="#e4e020" opacity="0.92"/>
<circle cx="338.0" cy="149.9" r="3.8" fill="url(#gO)"/>
<circle cx="337.2" cy="166.9" r="3.8" fill="url(#gO)"/>
<circle cx="337.7" cy="180.4" r="3.8" fill="url(#gO)"/>
<circle cx="354.6" cy="152.6" r="8.9" fill="url(#gZn)"/>
<circle cx="354.6" cy="168.7" r="8.9" fill="url(#gZn)"/>
<circle cx="355.1" cy="185.7" r="8.9" fill="url(#gZn)"/>
<circle cx="338.6" cy="218.9" r="8.9" fill="url(#gZn)"/>
<circle cx="406.2" cy="191.5" r="8.9" fill="url(#gZn)"/>
<circle cx="390.0" cy="225.2" r="8.9" fill="url(#gZn)"/>
<circle cx="456.5" cy="174.1" r="8.9" fill="url(#gZn)"/>
<circle cx="456.5" cy="199.2" r="8.9" fill="url(#gZn)"/>
<circle cx="439.5" cy="217.1" r="8.9" fill="url(#gZn)"/>
<circle cx="439.5" cy="232.4" r="8.9" fill="url(#gZn)"/>
<circle cx="488.8" cy="210.9" r="8.9" fill="url(#gZn)"/>
<circle cx="489.7" cy="224.3" r="8.9" fill="url(#gZn)"/>
<circle cx="304.3" cy="195.6" r="4.5" fill="url(#gO)"/>
<circle cx="304.3" cy="226.5" r="4.5" fill="url(#gO)"/>
<circle cx="338.0" cy="196.5" r="4.5" fill="url(#gO)"/>
<circle cx="355.1" cy="203.1" r="4.5" fill="url(#gO)"/>
<circle cx="355.1" cy="218.6" r="4.5" fill="url(#gO)"/>
<circle cx="355.6" cy="233.3" r="4.5" fill="url(#gO)"/>
<circle cx="388.3" cy="202.8" r="4.5" fill="url(#gO)"/>
<circle cx="406.2" cy="210.0" r="4.5" fill="url(#gO)"/>
<circle cx="406.2" cy="226.5" r="4.5" fill="url(#gO)"/>
<circle cx="406.2" cy="240.4" r="4.5" fill="url(#gO)"/>
<circle cx="489.7" cy="172.3" r="4.5" fill="url(#gO)"/>
<circle cx="489.7" cy="188.4" r="4.5" fill="url(#gO)"/>
<circle cx="490.6" cy="202.8" r="4.5" fill="url(#gO)"/>
<circle cx="506.7" cy="210.0" r="4.5" fill="url(#gO)"/>
<circle cx="506.7" cy="226.1" r="4.5" fill="url(#gO)"/>
<circle cx="506.7" cy="239.6" r="4.5" fill="url(#gO)"/>
<circle cx="438.6" cy="210.9" r="4.5" fill="url(#gO)"/>
<circle cx="455.6" cy="218.0" r="4.5" fill="url(#gO)"/>
<circle cx="455.6" cy="233.3" r="4.5" fill="url(#gO)"/>
<circle cx="453.8" cy="245.8" r="4.5" fill="url(#gO)"/>
<path d="M395.2 78.7 C397.2 75.2 399.2 74.3 405.0 73.8 C410.9 73.3 408.3 73.5 412.9 77.1 C417.4 80.7 417.8 80.3 418.7 84.6 C419.7 88.9 419.1 89.7 415.8 90.1 C412.5 90.4 414.5 87.5 408.9 85.6 C403.4 83.6 403.7 86.5 399.2 84.2 C394.6 81.9 393.3 82.2 395.2 78.7 Z" fill="#80e4e4"/>
<path d="M375.3 120.8 C376.6 119.2 377.4 120.9 381.5 123.3 C385.7 125.8 386.8 125.5 387.8 128.0 C388.8 130.6 387.9 131.0 384.5 131.0 C381.1 131.0 380.7 131.4 377.6 128.0 C374.6 124.6 374.0 122.4 375.3 120.8 Z" fill="#80e4e4"/>
<path d="M399.2 83.6 C405.0 82.9 404.0 82.5 408.9 84.6 C413.9 86.6 411.1 90.5 415.8 90.5 C420.5 90.5 418.4 86.0 424.6 84.6 C430.8 83.1 430.5 82.6 436.4 85.6 C442.2 88.5 442.1 89.1 444.2 94.4 C446.2 99.7 445.6 98.8 443.2 103.2 C440.9 107.6 440.8 106.5 436.4 109.0 C431.9 111.6 429.6 109.4 428.5 111.6 C427.5 113.8 429.9 113.2 432.8 116.3 C435.8 119.3 437.0 118.8 438.3 121.8 C439.7 124.7 441.1 124.8 437.3 126.1 C433.5 127.4 431.2 124.9 425.6 126.1 C420.0 127.3 421.7 126.0 418.7 130.0 C415.8 134.0 416.9 133.6 415.8 139.4 C414.7 145.1 413.6 145.0 415.2 149.2 C416.8 153.4 417.4 150.7 421.1 153.5 C424.8 156.3 425.6 154.6 427.5 158.6 C429.5 162.6 429.6 162.6 427.5 166.8 C425.5 171.0 426.3 170.3 420.7 172.7 C415.1 175.0 416.6 174.3 408.9 174.6 C401.3 174.9 402.3 174.8 395.2 173.7 C388.2 172.5 389.9 173.9 385.5 170.7 C381.0 167.5 381.4 168.2 380.6 162.9 C379.7 157.6 380.2 157.8 382.5 153.1 C384.9 148.4 386.3 151.9 388.4 147.2 C390.4 142.5 389.4 143.2 389.4 137.4 C389.4 131.7 390.7 132.1 388.4 128.0 C386.0 123.9 385.9 126.5 381.5 123.7 C377.1 121.0 376.9 122.4 373.7 118.8 C370.5 115.3 370.8 116.1 370.8 112.0 C370.8 107.9 370.5 108.4 373.7 105.1 C376.9 101.9 378.3 104.4 381.5 101.2 C384.8 98.0 382.1 98.7 384.5 94.4 C386.8 90.1 385.0 90.2 389.4 86.9 C393.8 83.7 393.3 84.3 399.2 83.6 Z" fill="#dede20"/>
<g filter="url(#mb2)">
<ellipse cx="400.1" cy="94.4" rx="7.8" ry="5.9" fill="#f0f058" opacity="0.85"/>
<ellipse cx="433.4" cy="94.4" rx="7.4" ry="5.1" fill="#eeee50" opacity="0.8"/>
<ellipse cx="380.6" cy="111.0" rx="6.3" ry="3.9" fill="#f0f058" opacity="0.8"/>
<ellipse cx="400.1" cy="129.6" rx="5.5" ry="11.7" fill="#ecec48" opacity="0.7"/>
<ellipse cx="397.2" cy="160.9" rx="10.8" ry="5.5" fill="#ecec48" opacity="0.7"/>
<ellipse cx="416.4" cy="97.3" rx="1.8" ry="7.8" fill="#b8b614" opacity="0.6"/>
<ellipse cx="420.7" cy="116.3" rx="6.9" ry="2.7" fill="#c0bc18" opacity="0.55"/>
<ellipse cx="389.4" cy="151.1" rx="4.9" ry="2.0" fill="#bcb814" opacity="0.45"/>
<ellipse cx="407.0" cy="155.4" rx="11.7" ry="1.6" fill="#bcb814" opacity="0.5"/>
<ellipse cx="423.6" cy="147.2" rx="2.0" ry="6.9" fill="#b4b212" opacity="0.45"/>
<ellipse cx="389.4" cy="123.7" rx="2.0" ry="4.9" fill="#c4c018" opacity="0.4"/>
</g>
<path d="M399.2 108.5 C400.5 105.1 403.1 104.2 408.0 103.4 C412.9 102.6 412.5 103.2 413.8 106.1 C415.1 109.0 415.1 109.6 411.9 112.0 C408.6 114.4 408.3 114.5 404.0 113.4 C399.8 112.2 397.8 111.8 399.2 108.5 Z" fill="#78d4d8"/>
<line x1="402.1" y1="118.8" x2="405.4" y2="127.3" stroke="#c0c060" stroke-width="1.6"/>
<line x1="405.4" y1="127.3" x2="408.9" y2="136.5" stroke="#ff9010" stroke-width="2.2"/>
<circle cx="408.9" cy="136.5" r="3" fill="#ff9a10"/>
<line x1="408.9" y1="136.5" x2="408.6" y2="147.2" stroke="#e8c020" stroke-width="1.4"/>
<circle cx="402.1" cy="101.6" r="2.2" fill="#f0f0a0"/>
<circle cx="429.5" cy="100.2" r="2.2" fill="#f0f0a0"/>
<circle cx="381.9" cy="116.3" r="2.2" fill="#f0f0a0"/>
<line x1="422.3" y1="100.8" x2="429.5" y2="100.2" stroke="#f0f0a0" stroke-width="1.4"/>
<line x1="381.9" y1="116.3" x2="389.4" y2="114.9" stroke="#f0f0a0" stroke-width="1.4"/>
<ellipse cx="407.0" cy="162.9" rx="5" ry="2" fill="#c8c030"/>
<path d="M418.7 130.0 C421.5 127.5 419.7 128.0 425.6 126.1 C431.5 124.2 430.4 122.2 438.3 123.7 C446.2 125.3 444.4 126.0 452.0 131.2 C459.6 136.3 457.9 135.0 463.8 141.0 C469.6 146.9 469.5 145.1 471.6 151.1 C473.7 157.1 473.0 156.2 470.8 160.9 C468.6 165.6 469.8 163.9 464.2 166.8 C458.5 169.7 458.5 169.2 452.0 170.7 C445.6 172.2 447.0 173.5 442.6 171.9 C438.3 170.2 440.0 169.7 437.5 165.2 C435.1 160.8 437.4 160.3 434.4 157.0 C431.4 153.7 432.1 156.0 427.5 154.3 C423.0 152.5 422.6 154.4 419.1 151.1 C415.6 147.9 416.6 148.3 415.8 143.3 C415.0 138.3 415.5 138.5 416.4 134.5 C417.3 130.5 416.0 132.5 418.7 130.0 Z" fill="#84e2e2"/>
<g filter="url(#mb2)">
<ellipse cx="444.2" cy="137.4" rx="9.8" ry="5.9" fill="#b4f4f4" opacity="0.8"/>
<ellipse cx="461.8" cy="153.1" rx="5.9" ry="7.8" fill="#a0eeee" opacity="0.6"/>
<ellipse cx="426.6" cy="141.4" rx="4.9" ry="6.9" fill="#6cd0d0" opacity="0.6"/>
<ellipse cx="448.1" cy="162.9" rx="9.8" ry="3.9" fill="#64c8cc" opacity="0.6"/>
<ellipse cx="424.6" cy="133.5" rx="3.9" ry="2.9" fill="#a8f0f0" opacity="0.6"/>
</g>
<clipPath id="ylow"><rect x="376" y="151.5" width="60" height="30"/></clipPath>
<path d="M399.2 83.6 C405.0 82.9 404.0 82.5 408.9 84.6 C413.9 86.6 411.1 90.5 415.8 90.5 C420.5 90.5 418.4 86.0 424.6 84.6 C430.8 83.1 430.5 82.6 436.4 85.6 C442.2 88.5 442.1 89.1 444.2 94.4 C446.2 99.7 445.6 98.8 443.2 103.2 C440.9 107.6 440.8 106.5 436.4 109.0 C431.9 111.6 429.6 109.4 428.5 111.6 C427.5 113.8 429.9 113.2 432.8 116.3 C435.8 119.3 437.0 118.8 438.3 121.8 C439.7 124.7 441.1 124.8 437.3 126.1 C433.5 127.4 431.2 124.9 425.6 126.1 C420.0 127.3 421.7 126.0 418.7 130.0 C415.8 134.0 416.9 133.6 415.8 139.4 C414.7 145.1 413.6 145.0 415.2 149.2 C416.8 153.4 417.4 150.7 421.1 153.5 C424.8 156.3 425.6 154.6 427.5 158.6 C429.5 162.6 429.6 162.6 427.5 166.8 C425.5 171.0 426.3 170.3 420.7 172.7 C415.1 175.0 416.6 174.3 408.9 174.6 C401.3 174.9 402.3 174.8 395.2 173.7 C388.2 172.5 389.9 173.9 385.5 170.7 C381.0 167.5 381.4 168.2 380.6 162.9 C379.7 157.6 380.2 157.8 382.5 153.1 C384.9 148.4 386.3 151.9 388.4 147.2 C390.4 142.5 389.4 143.2 389.4 137.4 C389.4 131.7 390.7 132.1 388.4 128.0 C386.0 123.9 385.9 126.5 381.5 123.7 C377.1 121.0 376.9 122.4 373.7 118.8 C370.5 115.3 370.8 116.1 370.8 112.0 C370.8 107.9 370.5 108.4 373.7 105.1 C376.9 101.9 378.3 104.4 381.5 101.2 C384.8 98.0 382.1 98.7 384.5 94.4 C386.8 90.1 385.0 90.2 389.4 86.9 C393.8 83.7 393.3 84.3 399.2 83.6 Z" fill="#dede20" clip-path="url(#ylow)"/>
<g filter="url(#mb2)" clip-path="url(#ylow)">
<ellipse cx="397.2" cy="160.9" rx="10.8" ry="5.5" fill="#ecec48" opacity="0.7"/>
<ellipse cx="407.0" cy="155.4" rx="11.7" ry="1.6" fill="#bcb814" opacity="0.5"/>
<ellipse cx="425.6" cy="162.9" rx="2.7" ry="5.9" fill="#c4c018" opacity="0.45"/>
</g>
<ellipse cx="407.0" cy="162.9" rx="5" ry="2" fill="#c8c030"/>
<circle cx="426.6" cy="134.9" r="2.2" fill="#c8f4f8"/>
<line x1="417.8" y1="135.5" x2="426.6" y2="134.9" stroke="#b0e8f0" stroke-width="1.4"/>
<line x1="416.4" y1="135.5" x2="418.7" y2="135.5" stroke="#c03030" stroke-width="1.6"/>
</g>
</svg>
<div class="nt" style="left:300px;top:73px;width:72px;font-size:17.2px;line-height:20px;color:#1d4c9a;">标志物</div>
<div class="rt" style="left:296px;top:93.5px;width:80px;font-size:17px;line-height:20px;">灵敏检测</div>
<svg width="886" height="613" viewBox="0 0 886 613" style="left:0;top:0;">
<defs>
<filter id="p3b" x="-5%" y="-5%" width="110%" height="110%"><feGaussianBlur stdDeviation="0.4"/></filter>
<radialGradient id="zno" cx="0.64" cy="0.8" r="0.92">
<stop offset="0" stop-color="#f8faf0"/><stop offset="0.3" stop-color="#e6eed6"/><stop offset="0.5" stop-color="#cfdfb0"/><stop offset="0.68" stop-color="#aac67c"/><stop offset="0.84" stop-color="#7ca246"/><stop offset="1" stop-color="#527c24"/>
</radialGradient>
<linearGradient id="ysz" x1="0" y1="0" x2="0" y2="1">
<stop offset="0" stop-color="#868686"/><stop offset="0.1" stop-color="#a2a2a2"/><stop offset="0.35" stop-color="#cacac8"/><stop offset="0.6" stop-color="#e8e8e4"/><stop offset="0.8" stop-color="#d0d0c8"/><stop offset="1" stop-color="#a4a49c"/>
</linearGradient>
<linearGradient id="yszh" x1="0" y1="0" x2="1" y2="0">
<stop offset="0" stop-color="#000" stop-opacity="0.12"/><stop offset="0.3" stop-color="#fff" stop-opacity="0.1"/><stop offset="0.7" stop-color="#fff" stop-opacity="0.1"/><stop offset="1" stop-color="#000" stop-opacity="0.1"/>
</linearGradient>
<linearGradient id="znotop" x1="0.35" y1="0" x2="0.55" y2="1"><stop offset="0" stop-color="#4a7420" stop-opacity="0.55"/><stop offset="0.3" stop-color="#5a8428" stop-opacity="0.32"/><stop offset="0.6" stop-color="#6a9438" stop-opacity="0"/></linearGradient>
<radialGradient id="rball" cx="0.4" cy="0.35" r="0.7"><stop offset="0" stop-color="#ff8a8a"/><stop offset="0.4" stop-color="#ee1c1c"/><stop offset="1" stop-color="#a80000"/></radialGradient>
</defs>
<g filter="url(#p3b)">
<!-- YSZ slab -->
<rect x="646.6" y="184.4" width="116" height="48.4" fill="url(#ysz)"/>
<rect x="646.6" y="184.4" width="116" height="48.4" fill="url(#yszh)"/>
<!-- ZnO sphere -->
<circle cx="703.4" cy="133.4" r="50.3" fill="url(#zno)"/>
<circle cx="703.4" cy="133.4" r="50.3" fill="url(#znotop)"/>
<!-- band lines -->
<line x1="662" y1="108" x2="745.5" y2="108" stroke="#6a1a78" stroke-width="1.5"/>
<line x1="661.3" y1="158" x2="746.1" y2="158" stroke="#1c1cc8" stroke-width="1.6"/>
<line x1="703.4" y1="157.2" x2="703.4" y2="111" stroke="#f01414" stroke-width="1.5"/>
<path d="M699.6 116 L703.4 109.6 L707.2 116" fill="none" stroke="#f01414" stroke-width="1.5"/>
<!-- O2 molecule -->
<line x1="627" y1="80.2" x2="637" y2="80.2" stroke="#d02020" stroke-width="1.4"/>
<circle cx="627.8" cy="80.2" r="2.9" fill="url(#rball)"/><circle cx="637.2" cy="80.2" r="2.9" fill="url(#rball)"/>
<!-- red dashed curve O2 -> O- -->
<path d="M655.5 78.6 C662 80 666.5 88 666 98 C665.6 106 661 110.5 655 112.3 L648 114.4" fill="none" stroke="#f01414" stroke-width="1.5" stroke-dasharray="5 2.6 1.4 2.6"/>
<path d="M650.6 111.6 L645 115.3 L651.6 117.2" fill="none" stroke="#f01414" stroke-width="1.4"/>
<!-- purple 2e- arrow -->
<path d="M689.5 100.3 L673 100.3" fill="none" stroke="#6a1a78" stroke-width="1.5" stroke-dasharray="4.5 2.6 1.4 2.6"/>
<path d="M672.5 97.4 L666.4 100.3 L672.5 103.2 L670.5 100.3 Z" fill="#6a1a78" stroke="#6a1a78" stroke-width="0.8"/>
<!-- dark dash-dot from O- down to YSZ -->
<path d="M637.2 122.5 C638.5 133 640 140 646 147 C652 153 660 157 663.5 168 L665.5 179" fill="none" stroke="#4a2a5a" stroke-width="1.4" stroke-dasharray="4.5 2.4 1.2 2.4"/>
<path d="M662.6 176.8 L665.9 182.8 L668.8 176.6 M663.4 179.5 L665.9 184.2 L668.2 179.4" fill="none" stroke="#4a2a5a" stroke-width="1.1"/>
<!-- blue 2h+ arrow -->
<path d="M714 167.2 L746 167.2" fill="none" stroke="#1c1cc8" stroke-width="1.7" stroke-dasharray="5 2.8 1.5 2.8"/>
<path d="M745.6 164.2 L750.6 167.2 L745.6 170.2" fill="none" stroke="#1c1cc8" stroke-width="1.4"/>
<!-- green 2e- arrow -->
<path d="M674.6 166.6 C679 171 679.5 175 676 178 L671 180.6" fill="none" stroke="#22a822" stroke-width="1.6" stroke-dasharray="4 2.6"/>
<path d="M673.4 177.6 L668.3 181.6 L674.6 182.4 L672.4 180.2 Z" fill="#22a822" stroke="#22a822" stroke-width="0.8"/>
<!-- green 42e- arrow up -->
<path d="M713.6 184 L713 179" fill="none" stroke="#22a822" stroke-width="1.6"/>
<path d="M710 180.6 L712.6 175.4 L716 180.2 L713 179 Z" fill="#22a822" stroke="#22a822" stroke-width="0.8"/>
<path d="M720.6 190.6 C727 192.6 733 192 738.6 188.8" fill="none" stroke="#22a822" stroke-width="1.6" stroke-dasharray="4.5 2.4 1.2 2.4"/>
<line x1="738" y1="190.4" x2="742" y2="187" stroke="#22a822" stroke-width="1.6"/>
<!-- blue vertical arrows in YSZ -->
<path d="M666.2 187.5 L666.2 229" fill="none" stroke="#1c1cc8" stroke-width="1.7" stroke-dasharray="5 2.8 1.5 2.8"/>
<path d="M663.6 226.8 L666.2 232 L668.8 226.8" fill="none" stroke="#1c1cc8" stroke-width="1.2"/>
<path d="M742.6 228 L742.6 191" fill="none" stroke="#1c1cc8" stroke-width="1.7" stroke-dasharray="5 2.8 1.5 2.8"/>
<path d="M739.6 192.4 L742.6 186.6 L745.6 192.4 L742.6 190.6 Z" fill="#1c1cc8" stroke="#1c1cc8" stroke-width="0.8"/>
<!-- purple arrow down to junction -->
<path d="M756.5 167.6 L748.6 171 C746 174 744.4 177 743.4 181" fill="none" stroke="#7a1a8a" stroke-width="1.5" stroke-dasharray="4 2.4"/>
<path d="M740.6 176.8 L742.8 183.4 L746.4 177.4 M741.4 179.8 L742.8 184.6 L745.6 180.2" fill="none" stroke="#7a1a8a" stroke-width="1.1"/>
<!-- green dashed to p-Xylene -->
<path d="M747.6 154 C749 148 752 143.6 757 142.2 L764 141.2" fill="none" stroke="#1e7a1e" stroke-width="1.6" stroke-dasharray="4.5 2.6 1.2 2.6"/>
<path d="M748 160.6 L752.6 163.8 L750.4 158.6 Z" fill="#1e8a1e" stroke="#1e8a1e" stroke-width="1"/>
<!-- dark blue arrows to CO2 / H2O -->
<path d="M744 185.6 L764 183.4" fill="none" stroke="#1a3a7a" stroke-width="1.6" stroke-dasharray="4.5 2.6 1.4 2.6"/>
<path d="M768 180.2 L773.6 182.6 L768.6 185.6" fill="none" stroke="#1a3a7a" stroke-width="1.3"/>
<path d="M746 186.6 L763 192.6" fill="none" stroke="#1a3a7a" stroke-width="1.6" stroke-dasharray="4.5 2.6 1.4 2.6"/>
<path d="M767.4 191.6 L772.4 195.4 L766.2 196.8" fill="none" stroke="#1a3a7a" stroke-width="1.3"/>
<!-- CO2 -->
<line x1="800.4" y1="181.7" x2="817.3" y2="181.7" stroke="#888" stroke-width="1.2"/>
<circle cx="800.4" cy="181.7" r="2.2" fill="url(#rball)"/><circle cx="809" cy="181.7" r="2.3" fill="#20a0a0"/><circle cx="817.3" cy="181.7" r="2.2" fill="url(#rball)"/>
<!-- H2O -->
<path d="M797.4 193 L804.8 197.8 L811.4 192.3" fill="none" stroke="#203080" stroke-width="1.4"/>
<circle cx="804.8" cy="197.8" r="3" fill="url(#rball)"/><circle cx="797.4" cy="193" r="1.4" fill="#2030d0"/><circle cx="811.4" cy="192.3" r="1.4" fill="#2030d0"/>
<!-- p-xylene icon -->
<g stroke="#30b09c" stroke-width="1.3" fill="none">
<path d="M822.1 135.6 L827.4 138.8 L827.4 145.2 L822.1 148.4 L816.8 145.2 L816.8 138.8 Z"/>
<line x1="822.1" y1="135.6" x2="822.1" y2="130.6"/><line x1="822.1" y1="148.4" x2="822.1" y2="153.6"/>
<line x1="827.4" y1="138.8" x2="830" y2="137.4"/><line x1="827.4" y1="145.2" x2="830" y2="146.6"/><line x1="816.8" y1="138.8" x2="814.2" y2="137.4"/><line x1="816.8" y1="145.2" x2="814.2" y2="146.6"/>
<line x1="819" y1="130" x2="825.2" y2="130"/><line x1="819" y1="154" x2="825.2" y2="154"/>
</g>
<g fill="#2030c0"><circle cx="818.6" cy="129.8" r="1"/><circle cx="822.1" cy="129.2" r="1"/><circle cx="825.6" cy="129.8" r="1"/><circle cx="818.6" cy="154.2" r="1"/><circle cx="822.1" cy="154.8" r="1"/><circle cx="825.6" cy="154.2" r="1"/><circle cx="830.6" cy="137" r="1"/><circle cx="830.6" cy="147" r="1"/><circle cx="813.6" cy="137" r="1"/><circle cx="813.6" cy="147" r="1"/></g>
</g>
<g font-family="Liberation Sans, sans-serif" font-weight="bold" filter="url(#p3b)">
<text x="642.6" y="84.6" font-size="10.5" fill="#f01414">O<tspan font-size="6.5" dy="2">2</tspan></text>
<text x="631.6" y="120.6" font-size="10.5" fill="#3a2a5a">O<tspan font-size="7" dy="-5">-</tspan></text>
<text x="691" y="104.6" font-size="12" font-style="italic" fill="#6a1a78">2e<tspan font-size="7" dy="-4.4">-</tspan></text>
<text x="712.6" y="104.8" font-size="12.4" font-style="italic" fill="#6a1a78">C.B.</text>
<text x="668" y="138.8" font-size="10.6" font-style="italic" fill="#2d6e12">ZnO</text>
<text x="720" y="155.2" font-size="12.4" font-style="italic" fill="#1c1cc8">V.B.</text>
<text x="692.6" y="170.8" font-size="12.4" font-style="italic" fill="#1c1cc8">2h<tspan font-size="7.4" dy="-4.6">+</tspan></text>
<text x="679.2" y="185" font-size="10.4" fill="#22a822">2<tspan font-style="italic">e</tspan><tspan font-size="6.4" dy="-3.8">-</tspan></text>
<text x="699.8" y="197" font-size="10.4" fill="#22a822">42<tspan font-style="italic">e</tspan><tspan font-size="6.4" dy="-3.8">-</tspan></text>
<text x="670.4" y="215.8" font-size="11" fill="#1c1cd0">2O<tspan font-size="6.4" dy="-3.8">2-</tspan></text>
<text x="713.4" y="215.8" font-size="11" fill="#1c1cd0">21O<tspan font-size="6.4" dy="-3.8">2-</tspan></text>
<text x="690" y="229.8" font-size="10.6" font-style="italic" fill="#5a5a5a">YSZ</text>
<text x="768.8" y="148" font-size="10.2" fill="#1e6e1e"><tspan font-style="italic">p</tspan>-Xylene</text>
<text x="757.6" y="168.6" font-size="10.2" fill="#7a1a8a">Intermediates</text>
<text x="778" y="184.8" font-size="9.8" fill="#1a3a7a">CO<tspan font-size="6" dy="2.2">2</tspan></text>
<text x="775" y="199.4" font-size="9.8" fill="#1a3a7a">H<tspan font-size="6" dy="2.2">2</tspan><tspan dy="-2.2">O</tspan></text>
</g>
</svg>
<div class="nt" style="left:756px;top:73.5px;width:70px;font-size:16.8px;line-height:20px;color:#1d4c9a;">标志物</div>
<div class="rt" style="left:751px;top:93.5px;width:80px;font-size:16.9px;line-height:20px;">特异识别</div>
<svg width="886" height="613" viewBox="0 0 886 613" style="left:0;top:0;">
<defs><filter id="p4b" x="-5%" y="-5%" width="110%" height="110%"><feGaussianBlur stdDeviation="0.35"/></filter>
<filter id="p4tex" x="0" y="0" width="100%" height="100%"><feTurbulence type="fractalNoise" baseFrequency="0.18" numOctaves="3" seed="7"/><feColorMatrix type="matrix" values="0 0 0 0 0.80  0 0 0 0 0.80  0 0 0 0 0.80  0.9 0.9 0 0 -0.55"/><feGaussianBlur stdDeviation="0.5"/></filter>
</defs>
<g filter="url(#p4b)" stroke="#222" stroke-width="1.15" fill="none">
<line x1="83.5" y1="392.2" x2="83.5" y2="405.3"/>
<line x1="66.6" y1="404.5" x2="79.6" y2="408.7"/>
<line x1="88.0" y1="410.5" x2="100.5" y2="414.4"/>
<line x1="108.3" y1="414.4" x2="122.7" y2="410.5"/>
<line x1="113.6" y1="393.6" x2="124.5" y2="405.3"/>
<line x1="138.4" y1="393.0" x2="128.7" y2="405.3"/>
<line x1="131.3" y1="409.7" x2="144.4" y2="413.1"/>
<line x1="83.0" y1="413.1" x2="83.0" y2="427.5"/>
<line x1="86.1" y1="431.4" x2="100.0" y2="435.3"/>
<line x1="102.6" y1="439.2" x2="102.6" y2="454.9"/>
<line x1="106.2" y1="436.6" x2="121.4" y2="435.3"/>
<line x1="105.7" y1="437.9" x2="118.8" y2="441.9"/>
<line x1="111.6" y1="438.1" x2="114.7" y2="434.3"/>
<line x1="115.5" y1="437.4" x2="118.6" y2="434.0"/>
<rect x="125.2" y="431.3" width="8" height="8"/>
<line x1="146.5" y1="421.4" x2="170.0" y2="421.4"/>
<line x1="170.0" y1="392.6" x2="170.0" y2="448.8"/>
<line x1="170.0" y1="392.6" x2="220.0" y2="392.6"/>
<line x1="170.0" y1="448.8" x2="220.0" y2="448.8"/>
<path d="M218.5 390.4 L223 392.6 L218.5 394.8 Z" fill="#222"/><path d="M218.5 446.6 L223 448.8 L218.5 451 Z" fill="#222"/>
<line x1="243.7" y1="367.3" x2="243.7" y2="380.4"/>
<line x1="227.5" y1="379.6" x2="240.5" y2="383.5"/>
<line x1="249.1" y1="385.6" x2="261.4" y2="389.2"/>
<line x1="268.5" y1="388.7" x2="282.3" y2="385.3"/>
<line x1="271.3" y1="367.3" x2="283.6" y2="380.4"/>
<line x1="296.1" y1="366.5" x2="287.5" y2="380.4"/>
<line x1="290.9" y1="384.8" x2="303.2" y2="387.9"/>
<line x1="243.7" y1="388.2" x2="243.7" y2="402.6"/>
<line x1="247.0" y1="407.0" x2="257.5" y2="408.8"/>
<line x1="262.7" y1="412.2" x2="262.7" y2="428.4"/>
<line x1="269.8" y1="408.8" x2="281.0" y2="408.8" stroke-dasharray="2.4 1.6"/>
<rect x="281.8" y="404.9" width="7.8" height="7.8"/>
<line x1="245.2" y1="430.5" x2="245.2" y2="443.0"/>
<line x1="229.3" y1="443.0" x2="241.3" y2="446.2"/>
<line x1="249.7" y1="448.8" x2="262.7" y2="452.7"/>
<line x1="269.8" y1="452.2" x2="279.7" y2="449.3"/>
<line x1="291.4" y1="448.8" x2="301.1" y2="451.4"/>
<line x1="245.2" y1="451.9" x2="245.2" y2="465.7"/>
<line x1="248.4" y1="470.4" x2="262.2" y2="473.1"/>
<line x1="269.2" y1="472.8" x2="281.0" y2="468.4"/>
<line x1="268.7" y1="474.9" x2="281.0" y2="480.1"/>
<line x1="265.8" y1="476.7" x2="265.8" y2="493.2"/>
<line x1="285.4" y1="452.7" x2="285.4" y2="461.3" stroke-dasharray="2.4 1.6"/>
<line x1="272.6" y1="473.3" x2="274.2" y2="469.7"/>
<line x1="274.7" y1="472.5" x2="276.3" y2="468.9"/>
<rect x="281.8" y="461.8" width="7.8" height="7.8"/>
<line x1="315.6" y1="421.6" x2="343.0" y2="421.6"/>
<path d="M341.5 419.4 L346 421.6 L341.5 423.8 Z" fill="#222"/>
</g>
<rect x="366.6" y="404.7" width="69.3" height="36.9" fill="#d4d4d4"/>
<rect x="366.6" y="404.7" width="69.3" height="36.9" filter="url(#p4tex)"/>
<g filter="url(#p4b)" stroke="#222" stroke-width="0.9" fill="none">
<ellipse cx="386.5" cy="413" rx="16" ry="6" stroke-dasharray="2.2 1.4"/>
<ellipse cx="414.6" cy="417.4" rx="15" ry="5.6" stroke-dasharray="2.2 1.4" transform="rotate(-42 414.6 417.4)"/>
<rect x="388.2" y="409.4" width="7" height="7" stroke="#555" stroke-width="0.7"/><rect x="408" y="417.4" width="7" height="7" stroke="#555" stroke-width="0.7"/>
</g>
<g font-family="Liberation Sans, sans-serif" fill="#1a1a1a" filter="url(#p4b)">
<text x="83.5" y="412.2" font-size="8.4" text-anchor="middle" stroke="#1a1a1a" stroke-width="0.25">Zr</text>
<text x="126.6" y="412.2" font-size="8.4" text-anchor="middle" stroke="#1a1a1a" stroke-width="0.25">Zr</text>
<text x="104.4" y="418.2" font-size="8.4" text-anchor="middle" stroke="#1a1a1a" stroke-width="0.25">O</text>
<text x="82.2" y="433.9" font-size="8.4" text-anchor="middle" stroke="#1a1a1a" stroke-width="0.25">O</text>
<text x="103.1" y="439.1" font-size="8.4" text-anchor="middle" stroke="#1a1a1a" stroke-width="0.25">Y</text>
<text x="244.4" y="387.8" font-size="8.4" text-anchor="middle" stroke="#1a1a1a" stroke-width="0.25">Zr</text>
<text x="286.2" y="387.0" font-size="8.4" text-anchor="middle" stroke="#1a1a1a" stroke-width="0.25">Zr</text>
<text x="264.8" y="393.0" font-size="8.4" text-anchor="middle" stroke="#1a1a1a" stroke-width="0.25">O</text>
<text x="243.1" y="409.2" font-size="8.4" text-anchor="middle" stroke="#1a1a1a" stroke-width="0.25">O</text>
<text x="262.7" y="411.8" font-size="8.4" text-anchor="middle" stroke="#1a1a1a" stroke-width="0.25">Mn</text>
<text x="245.2" y="450.5" font-size="8.4" text-anchor="middle" stroke="#1a1a1a" stroke-width="0.25">Zr</text>
<text x="266.1" y="456.5" font-size="8.4" text-anchor="middle" stroke="#1a1a1a" stroke-width="0.25">O</text>
<text x="284.9" y="451.0" font-size="8.4" text-anchor="middle" stroke="#1a1a1a" stroke-width="0.25">Mn</text>
<text x="244.4" y="472.7" font-size="8.4" text-anchor="middle" stroke="#1a1a1a" stroke-width="0.25">O</text>
<text x="265.3" y="476.1" font-size="8.4" text-anchor="middle" stroke="#1a1a1a" stroke-width="0.25">Y</text>
<text x="74.4" y="466.8" font-size="9" font-weight="bold">8 mol% YSZ</text>
<text x="148.8" y="388.4" font-size="8" font-weight="bold">substitute Y with Mn</text>
<text x="151.4" y="458.4" font-size="8" font-weight="bold">substitute Zr with Mn</text>
<text x="232.7" y="503.2" font-size="9" font-weight="bold">Mn-doped YSZ</text>
<text x="208.4" y="513.6" font-size="9" font-weight="bold">(Strong restraining effect)</text>
<text x="370.7" y="450.5" font-size="9" font-weight="bold">Mn-doped YSZ</text>
<text x="368.9" y="400.6" font-size="8.4" font-weight="bold">O<tspan font-size="5" dy="1.6">2</tspan></text>
<text x="387.5" y="400.6" font-size="8.4" font-weight="bold">O<tspan font-size="5" dy="1.6">2</tspan></text>
<text x="405.8" y="400.6" font-size="8.4" font-weight="bold">O<tspan font-size="5" dy="1.6">2</tspan></text>
<text x="421.6" y="400.6" font-size="8.4" font-weight="bold">O<tspan font-size="5" dy="1.6">2</tspan></text>
<text x="375.2" y="416.0" font-size="8.4" font-weight="bold">Mn</text>
<text x="414.4" y="416.6" font-size="8" font-weight="bold">Mn</text>
<text x="402.4" y="415" font-size="8.2" font-weight="bold">O<tspan font-size="5" dy="-3">2-</tspan></text>
<text x="380.2" y="429.2" font-size="8.2" font-weight="bold">O<tspan font-size="5" dy="-3">2-</tspan></text>
<text x="421.8" y="427" font-size="8.2" font-weight="bold">O<tspan font-size="5" dy="-3">2-</tspan></text>
</g>
</svg>
<div class="abs" style="left:341px;top:451.6px;width:122.8px;font-size:9px;line-height:10.45px;font-weight:bold;color:#1a1a1a;text-align:justify;text-align-last:justify;filter:blur(0.3px);">(Oxygen vacancies were<br>restrained from migrating.<br>Oxygen ion activity inside</div>
<div class="abs" style="left:341px;top:482.9px;width:130px;font-size:9px;line-height:10.45px;font-weight:bold;color:#1a1a1a;white-space:nowrap;filter:blur(0.3px);">YSZ remained constant)</div>
<div class="bt" style="color:#155fba;left:166px;top:404.6px;width:62px;font-size:15px;line-height:17.8px;">形成固<br>溶体</div>
<div class="bt" style="color:#155fba;left:172px;top:467.6px;width:62px;font-size:15px;line-height:17.8px;">限域作<br>用强化</div>
<div class="bt" style="color:#155fba;left:343px;top:492.6px;width:120px;font-size:15.1px;line-height:19.4px;">载流子二维面<br>快速限域跃迁</div>
<svg width="886" height="613" viewBox="0 0 886 613" style="left:0;top:0;">
<defs>
<filter id="p5b" x="-5%" y="-5%" width="110%" height="110%"><feGaussianBlur stdDeviation="0.4"/></filter>
<filter id="p5b1" x="-20%" y="-20%" width="140%" height="140%"><feGaussianBlur stdDeviation="1.2"/></filter>
<filter id="p5b9" x="-60%" y="-60%" width="220%" height="220%"><feGaussianBlur stdDeviation="11"/></filter>
<filter id="leather" x="0" y="0" width="100%" height="100%"><feTurbulence type="fractalNoise" baseFrequency="0.42" numOctaves="2" seed="3"/><feColorMatrix type="matrix" values="0 0 0 0 0.34  0 0 0 0 0.35  0 0 0 0 0.32  0.55 0 0 0 -0.17"/><feGaussianBlur stdDeviation="0.5"/></filter>
<filter id="grain" x="0" y="0" width="100%" height="100%"><feTurbulence type="fractalNoise" baseFrequency="0.9" numOctaves="1" seed="5"/><feColorMatrix type="matrix" values="0 0 0 0 0.5  0 0 0 0 0.5  0 0 0 0 0.5  0.5 0 0 0 -0.18"/></filter>
<linearGradient id="cyl" x1="0" y1="0" x2="0" y2="1"><stop offset="0" stop-color="#b8b4ac"/><stop offset="0.2" stop-color="#e4e0d8"/><stop offset="0.5" stop-color="#dcd8d0"/><stop offset="0.85" stop-color="#b4b0a8"/><stop offset="1" stop-color="#8c8880"/></linearGradient>
<radialGradient id="bgb" cx="0.55" cy="0.4" r="0.8"><stop offset="0" stop-color="#c6c6c6"/><stop offset="0.7" stop-color="#bebebe"/><stop offset="1" stop-color="#b0b0b0"/></radialGradient>
<radialGradient id="skin1" cx="0.35" cy="0.4" r="0.8"><stop offset="0" stop-color="#fbc8aa"/><stop offset="0.5" stop-color="#f2ae88"/><stop offset="1" stop-color="#e0946c"/></radialGradient>
<clipPath id="cclip"><rect x="744.8" y="430.2" width="89.6" height="93.8"/></clipPath>
<clipPath id="bclip"><rect x="569.2" y="430.2" width="173" height="94"/></clipPath>
<linearGradient id="slab" x1="0" y1="0" x2="1" y2="0"><stop offset="0" stop-color="#a8b0ea"/><stop offset="0.6" stop-color="#a4acea"/><stop offset="1" stop-color="#b0bcec"/></linearGradient>
</defs>
<g filter="url(#p5b)">
<path d="M568.4 403.6 L717.7 403.6 L733.6 380.2 L733.8 383.4 L719 407.8 L568.4 407.8 Z" fill="#6a24a4"/>
<path d="M589.4 380.6 L732.7 380.6 L717.7 404.6 L568.7 404.6 Z" fill="url(#slab)" stroke="#b8d6f2" stroke-width="1.7" stroke-linejoin="round"/>
<rect x="652" y="384.2" width="113" height="1.6" fill="#8c8c94"/>
<rect x="726" y="387.6" width="40" height="2.2" fill="#a8a8a8"/><rect x="726" y="387.2" width="40" height="0.8" fill="#d8d8d8"/>
<rect x="640" y="396.4" width="125" height="2.2" fill="#9c9ca0"/><rect x="719" y="396" width="46" height="0.8" fill="#dcdcdc"/>
<path d="M698 388.6 L727 388.6 L722 396 L695 396 Z" fill="#b4d0ec" opacity="0.9"/>
<path d="M624.6 383.2 L652.6 383.2 L650 387.8 L623 387.8 Z" fill="#3c3c44"/>
<path d="M616 394.4 L642.4 394.4 L639 399.6 L612.6 399.6 Z" fill="#f2d85c"/>
<line x1="596" y1="370" x2="608" y2="380.4" stroke="#1a5ab8" stroke-width="1.35"/>
<line x1="606.5" y1="376.5" x2="608" y2="380.4" stroke="#1a5ab8" stroke-width="1.35"/>
<line x1="603.9" y1="379.5" x2="608" y2="380.4" stroke="#1a5ab8" stroke-width="1.35"/>
<line x1="640.8" y1="369.4" x2="640.8" y2="381.8" stroke="#1a5ab8" stroke-width="1.35"/>
<line x1="642.8" y1="378.1" x2="640.8" y2="381.8" stroke="#1a5ab8" stroke-width="1.35"/>
<line x1="638.8" y1="378.1" x2="640.8" y2="381.8" stroke="#1a5ab8" stroke-width="1.35"/>
<line x1="792.3" y1="391.4" x2="778.4" y2="391.4" stroke="#1a5ab8" stroke-width="1.35"/>
<line x1="782.1" y1="393.4" x2="778.4" y2="391.4" stroke="#1a5ab8" stroke-width="1.35"/>
<line x1="782.1" y1="389.4" x2="778.4" y2="391.4" stroke="#1a5ab8" stroke-width="1.35"/>
<line x1="609" y1="416.6" x2="620.4" y2="402" stroke="#1a5ab8" stroke-width="1.35"/>
<line x1="616.5" y1="403.7" x2="620.4" y2="402" stroke="#1a5ab8" stroke-width="1.35"/>
<line x1="619.7" y1="406.1" x2="620.4" y2="402" stroke="#1a5ab8" stroke-width="1.35"/>
<line x1="684.3" y1="416.6" x2="673" y2="405.8" stroke="#1a5ab8" stroke-width="1.35"/>
<line x1="674.3" y1="409.8" x2="673" y2="405.8" stroke="#1a5ab8" stroke-width="1.35"/>
<line x1="677.1" y1="406.9" x2="673" y2="405.8" stroke="#1a5ab8" stroke-width="1.35"/>
<line x1="771" y1="414.9" x2="766.2" y2="387.4" stroke="#1a5ab8" stroke-width="1.35"/>
<line x1="764.9" y1="391.4" x2="766.2" y2="387.4" stroke="#1a5ab8" stroke-width="1.35"/>
<line x1="768.8" y1="390.7" x2="766.2" y2="387.4" stroke="#1a5ab8" stroke-width="1.35"/>
<line x1="771" y1="414.9" x2="756.6" y2="398.8" stroke="#1a5ab8" stroke-width="1.35"/>
<line x1="757.6" y1="402.9" x2="756.6" y2="398.8" stroke="#1a5ab8" stroke-width="1.35"/>
<line x1="760.6" y1="400.2" x2="756.6" y2="398.8" stroke="#1a5ab8" stroke-width="1.35"/>
</g>
<g clip-path="url(#bclip)">
<rect x="569" y="430" width="174" height="95" fill="url(#bgb)"/>
<rect x="569" y="430" width="174" height="95" filter="url(#grain)" opacity="0.3"/>
<ellipse cx="572" cy="524" rx="34" ry="18" fill="#8c8c8c" opacity="0.6" filter="url(#p5b9)"/>
<ellipse cx="742" cy="432" rx="26" ry="16" fill="#d6d6d6" opacity="0.6" filter="url(#p5b9)"/>
<g filter="url(#p5b)">
<ellipse cx="622" cy="487.6" rx="26" ry="2.4" fill="#7c7c7c" opacity="0.55" filter="url(#p5b1)"/>
<path d="M569 466.6 L588 468 L591 469 L591 481.4 L580 482.4 L569 483.6 Z" fill="#181818"/>
<path d="M569 471.6 L588 472.2 L588 474 L569 474 Z" fill="#787878"/>
<path d="M569 476.8 L590 476.4 L590 479 L569 480.4 Z" fill="#5c5c5c"/>
<rect x="588" y="467" width="11.5" height="4" rx="1" fill="#b4b4b4"/><rect x="588" y="476" width="11.5" height="4" rx="1" fill="#9c9c9c"/>
<rect x="592" y="471" width="7" height="5" fill="#303030"/>
<rect x="598.5" y="462.6" width="46.1" height="22.9" rx="2.2" fill="url(#cyl)"/>
<rect x="615.4" y="462.8" width="0.8" height="22.4" fill="#a8a49c" opacity="0.8"/>
<rect x="611.4" y="466.6" width="3.8" height="3" fill="#3a3a3a"/><rect x="611.4" y="473.4" width="3.8" height="3" fill="#444"/>
<path d="M644.6 469.2 L656 469.2 L656 476 L644.6 476 Z" fill="#d0d0d0" opacity="0.85"/>
<path d="M646 470.8 L682.8 469.8 L682.8 467 L699.6 466.6 L700.4 473.4 L682.8 474 L682.8 474.4 L646 475 Z" fill="#f2f2f0"/>
<path d="M646 475 L682.8 474.4 L700.4 473.4 L700.4 474.4 L682.8 475.4 L646 476 Z" fill="#8a8a8a" opacity="0.75"/>
<path d="M650 472.6 L682 471.8" stroke="#c4c4c4" stroke-width="0.8" fill="none"/>
<circle cx="647.4" cy="472.6" r="0.9" fill="#555"/>
</g></g>
<g clip-path="url(#cclip)">
<rect x="744.8" y="430.2" width="89.6" height="93.8" fill="#222421"/>
<rect x="744.8" y="430.2" width="89.6" height="93.8" filter="url(#leather)"/>
<g filter="url(#p5b)">
<path d="M836 428 L800 428 C788 430 781.6 438 782 448 C782.4 458 789 464 797.6 466.4 C790 468 786 472 785.4 476 C781.6 482 781.8 492 785 498 C789 504.6 797 506.6 806 505.4 C814 508.6 826 509 836 507.6 Z" fill="url(#skin1)"/>
<path d="M797.6 466.4 C803 468 810 468.6 818 466 " fill="none" stroke="#c07850" stroke-width="1.4" opacity="0.7" filter="url(#p5b1)"/>
<path d="M806 505.4 C812 500 822 497 836 497" fill="none" stroke="#c88058" stroke-width="1.2" opacity="0.6" filter="url(#p5b1)"/>
<ellipse cx="800" cy="470" rx="4" ry="6" fill="#50403a" opacity="0.55" filter="url(#p5b1)"/>
<g stroke="#3a221a" stroke-width="0.6" opacity="0.62">
<line x1="809.3" y1="430" x2="809.3" y2="486"/>
<line x1="797" y1="431.4" x2="809.3" y2="431.4"/>
<line x1="797" y1="433.3" x2="809.3" y2="433.3"/>
<line x1="797" y1="435.2" x2="809.3" y2="435.2"/>
<line x1="797" y1="437.1" x2="809.3" y2="437.1"/>
<line x1="797" y1="439.0" x2="809.3" y2="439.0"/>
<line x1="797" y1="442.8" x2="809.3" y2="442.8"/>
<line x1="797" y1="444.7" x2="809.3" y2="444.7"/>
<line x1="797" y1="446.6" x2="809.3" y2="446.6"/>
<line x1="797" y1="448.5" x2="809.3" y2="448.5"/>
<line x1="797" y1="450.4" x2="809.3" y2="450.4"/>
<line x1="797" y1="454.2" x2="809.3" y2="454.2"/>
<line x1="797" y1="456.1" x2="809.3" y2="456.1"/>
<line x1="797" y1="458.0" x2="809.3" y2="458.0"/>
<line x1="797" y1="459.9" x2="809.3" y2="459.9"/>
<line x1="797" y1="461.8" x2="809.3" y2="461.8"/>
<line x1="797" y1="465.6" x2="809.3" y2="465.6"/>
<line x1="797" y1="467.5" x2="809.3" y2="467.5"/>
<line x1="797" y1="469.4" x2="809.3" y2="469.4"/>
<line x1="797" y1="471.3" x2="809.3" y2="471.3"/>
<line x1="797" y1="473.2" x2="809.3" y2="473.2"/>
<line x1="797" y1="477.0" x2="809.3" y2="477.0"/>
<line x1="797" y1="478.9" x2="809.3" y2="478.9"/>
<line x1="797" y1="480.8" x2="809.3" y2="480.8"/>
<line x1="797" y1="482.7" x2="809.3" y2="482.7"/>
<line x1="797" y1="431" x2="797" y2="442"/><line x1="797" y1="445" x2="797" y2="456"/>
<line x1="800" y1="456.6" x2="813" y2="456.6" stroke-width="0.9"/><line x1="800" y1="485.6" x2="813" y2="485.6" stroke-width="0.9"/>
<line x1="817" y1="456.6" x2="824" y2="456.6" stroke-width="0.8"/>
</g>
<path d="M744.8 479.5 L790 479.6 L798 480.4 L790 481 L744.8 480.9 Z" fill="#f6f6f6"/>
<rect x="798" y="496.4" width="36" height="0.7" fill="#f0d8c8" opacity="0.8"/>
<circle cx="821.4" cy="485.4" r="4.7" fill="#2a50e0"/><ellipse cx="821.4" cy="485.4" rx="1.4" ry="2.4" fill="none" stroke="#c8d4ff" stroke-width="0.8"/>
</g></g>
<g font-family="Liberation Sans, Noto Sans CJK SC, sans-serif" filter="url(#p5b)">
<text x="568.4" y="368.4" font-size="13.4" fill="#111">a</text>
<text x="573.6" y="445.4" font-size="13.4" fill="#111">b</text>
<text x="749" y="445.6" font-size="12" fill="#f4f4f4">c</text>
<text x="822" y="479" font-size="7.6" fill="#2a50e0" transform="rotate(-90 822 479)" text-anchor="start" dominant-baseline="middle">cm</text>
<g font-weight="bold" fill="#1a5ab8" font-size="8.9">
<text x="576.6" y="368.6" font-size="8.8"><tspan font-size="9.4">YSZ</tspan> 电解质</text>
<text x="631.2" y="366.8">参比电极</text>
<text x="794" y="394.6" font-size="9">加热电极</text>
<text x="580.4" y="426.4">敏感电极</text>
<text x="650.8" y="425.4">氧化铝加热片</text>
<text x="755.2" y="427.4">信号电极</text>
</g></g>
</svg>
<!-- frames + labels -->
<svg width="886" height="613" viewBox="0 0 886 613" style="left:0;top:0;">
<g fill="none" stroke="#2561b4" stroke-width="1.7" stroke-dasharray="3.5 1.7">
<rect x="51.8" y="67.5" width="143.8" height="181.2"/>
<rect x="293.7" y="67.4" width="223" height="180"/>
<rect x="617.6" y="66.9" width="217" height="180.2"/>
<rect x="52.8" y="345.8" width="430" height="192"/>
<rect x="560" y="350.2" width="277.6" height="183.8"/>
</g>
</svg>
<div class="lbl" style="left:59.3px;top:40.8px;width:128.7px;height:28.9px;font-size:19px;line-height:29.6px;">光场诱导极化</div>
<div class="bt" style="left:203px;top:88px;width:70px;font-size:17px;line-height:20.5px;">晶格电<br>子偏置</div>
<div class="lbl" style="left:322.3px;top:39.4px;width:164.4px;height:28.3px;font-size:18.8px;line-height:30px;">敏感材料深度活化</div>
<div class="bt" style="left:515px;top:86px;width:100px;font-size:17.2px;line-height:21px;">调节光诱导<br>电极化参数</div>
<div class="lbl" style="left:637.8px;top:39.9px;width:169px;height:28.7px;font-size:19.1px;line-height:29px;padding-right:2px;">调控界面反应过程</div>
<div class="lbl" style="left:72.5px;top:324.4px;width:396px;height:29.2px;font-size:19.2px;line-height:31px;">固溶体掺杂离子对晶格载流子的限域跃迁作用</div>
<div class="lbl" style="left:565px;top:324px;width:270px;height:28.6px;font-size:19.4px;line-height:28px;">单层电化学气体传感器结构</div>
<div class="cap" style="left:273px;top:264px;font-size:26.5px;line-height:32px;">光诱导电极化检测方法示意图</div>
<div class="cap" style="left:312.5px;top:550.3px;font-size:26.8px;line-height:32px;">超薄气体传感器结构图</div>
</body>
</html>
